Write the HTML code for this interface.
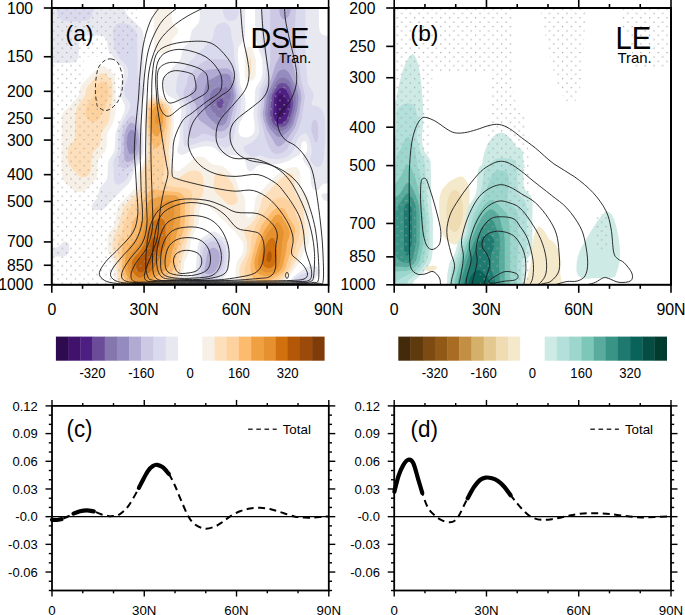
<!DOCTYPE html>
<html><head><meta charset="utf-8"><style>
html,body{margin:0;padding:0;background:#fff;width:685px;height:615px;overflow:hidden}
svg{display:block}
text{font-family:"Liberation Sans", sans-serif;fill:#000}
</style></head><body>
<svg width="685" height="615" viewBox="0 0 685 615">
<rect width="685" height="615" fill="#fff"/>
<clipPath id="ca"><rect x="51.8" y="8.0" width="276.8" height="276.8"/></clipPath>
<clipPath id="cb"><rect x="394.2" y="8.0" width="276.8" height="276.8"/></clipPath>
<g clip-path="url(#ca)">
<path d="M153.8,5.0 171.3,5.0 171.8,21.0 173.2,24.0 177.1,28.0 178.2,30.0 177.9,33.0 173.8,37.3 172.2,40.0 170.8,48.0 169.8,50.4 166.8,52.9 162.8,53.5 159.8,53.3 156.8,52.1 155.0,50.0 154.1,47.0 153.7,5.0ZM247.8,46.9 249.8,46.5 250.8,46.8 252.7,49.0 255.8,60.0 255.7,75.0 254.5,78.0 251.8,80.7 248.8,81.4 246.8,80.4 245.3,78.0 244.7,75.0 244.5,53.0 245.8,49.0 247.7,47.0ZM101.8,65.7 103.8,65.9 105.8,67.0 113.2,74.0 115.0,77.0 115.9,107.0 115.6,113.0 112.8,123.6 108.4,131.0 107.2,134.0 106.6,146.0 105.8,149.8 103.8,153.0 99.9,157.0 98.3,160.0 97.6,164.0 97.3,174.0 96.4,178.0 86.8,189.3 82.8,191.6 77.8,191.9 73.8,190.7 63.8,181.0 62.1,178.0 61.5,171.0 61.7,117.0 62.4,114.0 63.6,112.0 68.8,107.3 72.2,103.0 77.9,97.0 79.3,94.0 80.5,87.0 82.1,84.0 91.7,74.0 100.9,66.0ZM154.8,93.8 156.8,93.5 159.8,95.0 170.8,103.6 172.6,106.0 173.4,108.0 174.1,114.0 174.0,123.0 172.9,140.0 171.1,151.0 173.9,167.0 175.0,170.0 176.8,171.3 178.8,170.9 188.8,163.1 193.8,158.3 195.8,157.1 198.8,156.4 201.8,156.5 204.8,157.4 210.5,163.0 212.8,164.4 220.8,165.7 224.2,167.0 234.8,177.3 236.2,180.0 239.0,189.0 243.9,196.0 245.1,200.0 245.5,213.0 246.5,216.0 247.8,217.3 248.8,217.5 250.8,216.8 252.8,213.7 254.5,207.0 255.4,199.0 257.1,195.0 275.7,176.0 283.5,170.0 288.0,168.0 294.8,166.9 296.8,167.6 298.8,169.4 300.2,173.0 300.6,184.0 301.2,188.0 302.8,191.0 308.1,197.0 309.5,201.0 309.6,241.0 308.2,245.0 303.8,251.0 301.1,259.0 299.6,262.0 293.2,271.0 285.4,280.0 284.1,283.0 283.8,287.0 236.6,287.0 235.4,273.0 235.5,268.0 237.4,261.0 241.8,254.9 243.2,252.0 243.7,247.0 242.8,242.2 234.8,231.5 229.6,227.0 225.4,222.0 220.6,218.0 216.3,213.0 211.6,209.0 207.8,205.0 204.8,203.5 201.8,204.7 199.8,208.0 198.6,224.0 192.9,235.0 190.5,243.0 188.9,253.0 184.6,261.0 183.3,272.0 180.8,282.0 180.5,287.0 114.7,287.0 113.2,263.0 111.9,259.0 108.4,253.0 107.7,250.0 107.8,236.0 108.8,232.9 112.8,227.6 114.5,224.0 117.8,207.0 120.7,203.0 132.5,191.0 134.8,188.0 136.7,183.0 138.8,171.0 143.1,164.0 144.4,161.0 145.4,156.0 145.9,148.0 144.1,121.0 144.7,107.0 145.8,103.0 147.8,99.6 150.8,96.4 154.3,94.0Z" fill="#f6f0e6"/>
<path d="M249.8,57.3 250.8,58.8 251.2,62.0 250.9,73.0 249.8,73.6 249.1,71.0 249.1,62.0 249.6,58.0ZM102.8,73.0 105.8,74.3 109.8,77.9 111.6,81.0 112.3,84.0 112.5,97.0 109.4,119.0 107.8,123.7 102.9,130.0 101.4,133.0 100.2,143.0 99.2,146.0 93.8,151.4 92.5,154.0 91.6,159.0 91.2,169.0 90.2,173.0 87.8,175.9 83.8,177.2 80.8,176.9 78.8,175.8 69.7,166.0 67.8,160.0 68.0,150.0 69.3,146.0 73.6,141.0 74.8,138.2 75.2,117.0 77.1,107.0 84.2,97.0 85.4,94.0 86.4,89.0 87.8,86.0 95.8,77.1 99.8,73.9 102.2,73.0ZM153.8,97.8 157.8,97.3 161.8,99.4 168.6,105.0 169.9,107.0 170.9,110.0 171.5,122.0 168.5,152.0 170.1,170.0 171.8,175.1 174.8,178.1 177.8,178.4 179.8,177.5 187.8,171.7 191.8,170.7 195.8,170.5 198.8,171.5 200.8,173.0 202.7,176.0 203.6,180.0 203.5,193.0 202.0,196.0 196.8,202.2 195.0,206.0 194.3,210.0 193.6,224.0 186.1,244.0 184.7,251.0 181.5,260.0 180.2,272.0 178.8,275.7 175.3,282.0 174.5,287.0 118.3,287.0 116.0,261.0 112.5,249.0 112.6,242.0 113.3,237.0 117.8,227.2 123.2,208.0 125.8,204.4 136.8,192.8 139.8,187.0 141.2,173.0 145.7,163.0 147.2,154.0 147.3,143.0 145.5,121.0 146.0,109.0 146.9,105.0 148.5,102.0 150.8,99.6 153.5,98.0ZM218.8,172.9 221.8,173.2 224.8,175.0 229.8,179.7 232.5,184.0 237.8,199.0 236.8,202.7 233.8,204.9 229.8,205.1 226.8,203.7 221.7,198.0 216.8,194.0 214.8,191.0 213.5,185.0 214.0,178.0 215.3,175.0 218.4,173.0ZM286.8,173.8 288.8,173.2 290.8,173.3 293.0,175.0 294.1,179.0 294.7,190.0 295.5,194.0 297.2,197.0 301.5,201.0 302.8,203.6 304.7,224.0 304.8,234.0 303.8,241.0 300.4,248.0 296.7,259.0 290.4,271.0 281.5,281.0 280.6,284.0 280.4,287.0 241.6,287.0 241.2,281.0 239.5,274.0 239.2,270.0 240.5,265.0 245.8,255.3 247.2,250.0 247.0,242.0 243.9,232.0 244.4,229.0 250.8,224.1 254.8,219.0 260.1,207.0 262.0,199.0 263.7,196.0 279.8,179.5 286.5,174.0Z" fill="#fde0bb"/>
<path d="M100.8,81.7 103.8,81.5 107.0,84.0 108.7,88.0 108.8,94.0 107.8,99.1 104.8,108.5 99.8,118.1 96.8,121.0 94.8,121.8 91.8,122.0 89.8,121.3 88.1,120.0 86.2,116.0 85.7,109.0 87.3,104.0 93.5,96.0 96.3,86.0 100.2,82.0ZM155.8,99.9 159.8,100.6 165.3,105.0 167.7,109.0 168.9,115.0 168.7,124.0 166.8,134.0 164.7,151.0 164.6,170.0 163.8,174.0 162.2,178.0 162.5,180.0 165.6,184.0 168.8,186.0 173.8,187.0 183.8,187.8 187.8,188.8 190.8,191.1 192.3,195.0 189.7,207.0 189.4,221.0 188.8,226.0 186.8,234.0 182.0,245.0 178.8,258.0 177.2,271.0 174.8,275.0 167.6,281.0 166.1,284.0 165.8,287.0 122.0,287.0 121.6,281.0 119.4,271.0 118.8,260.0 117.3,250.0 117.8,242.0 122.3,232.0 124.0,224.0 127.6,213.0 129.8,209.1 139.8,196.9 143.1,191.0 144.5,187.0 145.3,173.0 148.5,162.0 149.4,153.0 149.1,144.0 147.0,123.0 147.3,111.0 148.1,107.0 149.8,103.7 152.8,101.1 155.6,100.0ZM278.8,197.8 282.8,197.6 285.8,198.6 289.8,201.6 292.9,205.0 294.3,208.0 295.8,215.0 299.3,223.0 300.1,231.0 299.4,236.0 296.5,244.0 294.4,254.0 288.6,269.0 285.8,273.0 277.3,281.0 276.0,284.0 275.7,287.0 246.4,287.0 246.1,280.0 244.3,271.0 245.2,266.0 250.3,252.0 251.9,235.0 255.6,226.0 260.8,216.7 267.6,208.0 271.8,201.5 273.8,199.7 277.9,198.0Z" fill="#fdd29f"/>
<path d="M154.8,102.9 156.8,102.5 158.8,102.8 163.0,106.0 165.4,111.0 166.3,117.0 165.8,125.0 161.8,140.9 159.8,145.4 156.8,148.2 154.8,148.1 153.8,147.2 151.8,142.2 149.8,134.5 148.7,124.0 148.7,115.0 149.7,109.0 151.8,105.0 154.6,103.0ZM150.8,189.9 154.8,189.2 163.8,190.8 177.8,192.1 180.8,193.3 182.9,195.0 184.3,197.0 185.0,200.0 184.8,222.0 184.2,228.0 182.9,233.0 179.8,240.0 176.2,252.0 174.1,268.0 173.2,270.0 171.5,272.0 161.9,278.0 158.4,281.0 156.9,284.0 156.6,287.0 126.3,287.0 125.9,282.0 122.6,273.0 121.8,268.0 121.8,252.8 122.9,245.0 124.3,242.0 130.4,234.0 131.3,231.0 132.7,222.0 134.3,219.0 137.8,214.5 141.7,203.0 146.8,194.1 150.7,190.0ZM277.8,207.7 281.8,207.8 285.1,210.0 288.8,217.7 293.8,225.0 295.0,229.0 295.0,233.0 291.5,244.0 290.2,253.0 284.8,270.0 282.1,273.0 277.8,276.2 267.8,281.3 264.8,281.9 259.8,281.6 255.8,280.3 253.8,278.8 252.0,276.0 250.8,272.2 250.4,264.0 255.8,242.0 261.1,226.0 271.7,212.0 274.8,209.2 277.0,208.0Z" fill="#fcbb6d"/>
<path d="M156.8,105.8 159.8,107.0 161.8,110.0 163.0,114.0 163.4,119.0 162.8,124.4 160.8,130.5 158.8,134.7 156.8,136.4 154.8,135.9 152.7,133.0 151.4,128.0 150.9,121.0 151.1,115.0 151.9,111.0 153.8,107.5 156.0,106.0ZM168.8,195.0 175.8,195.7 178.0,197.0 179.4,199.0 180.2,206.0 180.1,221.0 179.6,226.0 176.7,234.0 174.6,244.0 171.8,252.0 170.5,262.0 169.1,266.0 165.7,270.0 151.3,280.0 149.2,283.0 148.7,287.0 130.9,287.0 130.1,281.0 126.3,274.0 125.0,270.0 124.7,263.0 125.7,255.0 126.9,251.0 128.8,247.0 135.8,238.7 137.8,235.3 140.0,225.0 144.2,215.0 145.8,206.0 147.8,202.2 149.8,200.1 151.8,199.1 162.8,195.8 168.0,195.0ZM275.8,214.9 278.8,214.2 281.8,216.3 288.5,228.0 289.9,233.0 289.4,236.0 287.0,243.0 286.0,252.0 282.8,266.0 281.5,269.0 278.8,272.0 274.8,274.4 269.8,276.0 265.8,276.2 261.8,275.4 258.8,274.1 256.6,272.0 255.1,269.0 254.2,264.0 254.8,259.0 257.9,248.0 263.8,231.4 273.7,217.0 275.6,215.0Z" fill="#efa142"/>
<path d="M156.8,113.5 158.1,114.0 159.1,117.0 158.9,122.0 157.8,124.2 156.8,124.6 155.8,123.8 155.0,121.0 155.1,117.0 156.2,114.0ZM166.8,200.8 169.8,200.6 172.5,202.0 173.6,204.0 174.3,208.0 174.2,222.0 171.5,233.0 170.2,244.0 167.1,252.0 165.3,260.0 163.9,263.0 155.7,272.0 145.1,280.0 143.5,283.0 143.0,287.0 136.0,287.0 134.8,281.0 129.8,273.6 128.3,270.0 127.8,265.0 128.7,259.0 130.9,254.0 137.8,245.7 140.6,241.0 144.8,225.6 151.8,211.5 153.8,209.2 166.3,201.0ZM276.8,222.6 278.8,222.6 280.8,224.8 283.0,230.0 283.8,234.0 282.0,243.0 281.4,253.0 280.1,262.0 278.3,267.0 275.6,270.0 272.8,271.6 269.8,272.4 266.8,272.5 263.8,271.7 261.1,270.0 259.4,268.0 258.1,265.0 257.7,262.0 258.3,258.0 260.3,251.0 265.8,235.9 267.8,232.4 276.2,223.0Z" fill="#e69130"/>
<path d="M157.8,218.7 159.8,218.2 161.8,218.5 163.8,220.0 164.8,222.2 165.4,226.0 165.9,240.0 165.5,244.0 159.8,257.6 153.9,268.0 150.1,272.0 142.8,276.6 140.8,277.4 138.8,277.4 135.8,275.5 133.6,273.0 131.6,268.0 131.9,262.0 133.8,257.9 139.8,251.6 143.3,246.0 145.2,241.0 147.7,231.0 149.8,226.6 153.8,221.5 157.2,219.0ZM271.8,237.8 273.8,238.3 275.4,241.0 276.7,248.0 277.0,255.0 276.5,260.0 275.7,263.0 273.7,266.0 270.8,268.0 267.8,268.3 264.8,267.1 262.2,264.0 261.6,261.0 262.8,254.0 265.8,245.3 268.8,239.9 271.2,238.0Z" fill="#d0700f"/>
<path d="M154.8,236.8 156.8,237.0 159.1,239.0 160.1,242.0 159.8,245.0 155.5,253.0 149.8,265.8 146.8,269.2 142.8,271.8 139.8,272.2 137.8,271.1 137.0,270.0 136.1,267.0 136.5,263.0 138.2,260.0 144.2,254.0 149.2,246.0 152.3,239.0 154.4,237.0ZM268.8,251.4 269.8,251.1 270.8,251.8 271.6,254.0 271.7,258.0 270.7,261.0 269.8,261.8 268.2,262.0 266.5,260.0 266.8,255.4 268.3,252.0Z" fill="#b45808"/>
<path d="M49.8,5.0 125.2,5.0 125.5,11.0 126.8,14.4 141.0,28.0 143.1,32.0 143.6,37.0 143.8,74.0 145.6,89.0 145.0,94.0 142.0,103.0 141.2,109.0 141.3,121.0 142.9,133.0 143.4,143.0 143.3,151.0 142.3,157.0 140.2,162.0 134.7,169.0 131.5,179.0 128.8,183.5 109.1,203.0 104.8,208.2 101.8,209.8 97.8,210.3 94.8,209.9 92.8,208.9 91.5,207.0 91.7,205.0 97.3,198.0 99.8,188.0 105.2,182.0 106.8,179.0 107.5,175.0 108.1,162.0 109.5,159.0 113.3,153.0 114.6,149.0 115.5,133.0 119.6,122.0 123.5,114.0 124.7,110.0 124.8,105.0 120.9,97.0 120.1,92.0 120.5,86.0 123.8,76.0 123.6,70.0 122.3,67.0 116.8,61.9 109.0,51.0 107.9,48.0 107.0,41.0 105.8,38.5 103.8,36.6 99.8,35.4 86.8,35.4 83.8,36.2 81.2,38.0 80.0,40.0 79.2,43.0 78.6,57.0 77.3,60.0 74.8,62.0 69.8,62.9 48.8,62.9 48.8,5.0ZM200.8,5.0 245.3,5.0 245.0,36.0 243.6,40.0 238.8,47.0 238.0,50.0 237.7,55.0 240.3,84.0 241.4,88.0 244.7,95.0 245.5,101.0 245.0,113.0 239.7,123.0 238.8,127.2 238.7,132.0 239.2,134.0 240.8,136.1 242.8,137.1 245.8,137.4 248.8,136.9 251.8,135.3 253.7,133.0 254.5,131.0 254.8,125.0 253.3,114.0 254.7,103.0 255.1,91.0 256.2,87.0 261.2,79.0 262.6,73.0 262.2,59.0 258.8,49.8 255.2,37.0 255.0,5.0 318.9,5.0 319.0,26.0 319.7,31.0 320.8,33.1 323.2,35.0 325.8,35.8 330.8,36.1 330.8,183.0 326.8,183.2 323.5,184.0 321.0,186.0 318.8,189.6 316.8,190.5 313.8,189.2 311.8,186.8 310.9,183.0 310.1,171.0 308.8,168.0 304.1,162.0 302.7,159.0 302.9,156.0 305.8,153.3 307.3,150.0 306.8,144.0 305.8,141.8 304.8,141.0 302.8,141.4 301.7,143.0 301.0,146.0 300.5,153.0 299.2,155.0 288.3,161.0 281.8,163.0 274.8,164.4 263.8,164.5 259.8,165.1 256.8,166.6 252.8,170.4 250.8,171.3 248.8,171.0 247.7,170.0 246.7,168.0 245.2,161.0 243.8,158.7 241.8,156.9 237.8,155.4 226.8,155.1 222.8,154.5 219.8,152.8 214.8,148.1 211.8,146.6 204.8,146.3 195.8,148.0 191.8,149.6 185.8,153.7 182.8,154.7 179.8,154.4 177.8,152.7 177.2,150.0 179.5,140.0 179.8,125.0 181.2,113.0 181.1,108.0 179.6,104.0 177.2,101.0 173.8,98.4 168.8,96.0 165.8,93.0 163.5,86.0 163.2,80.0 164.0,77.0 165.2,75.0 169.8,71.0 174.0,66.0 179.8,60.5 180.9,58.0 182.6,49.0 184.0,47.0 188.4,43.0 189.6,41.0 191.8,30.6 198.6,23.0 199.8,18.0 199.9,5.0ZM322.8,193.6 330.8,193.1 330.8,201.1 325.8,200.7 322.8,199.2 321.3,196.0 322.0,194.0ZM211.8,231.7 213.8,231.5 215.8,232.1 225.6,239.0 227.8,242.0 229.2,247.0 229.7,258.0 228.4,270.0 226.8,274.0 220.6,281.0 219.6,287.0 188.8,287.0 189.0,282.0 189.7,279.0 194.8,272.0 195.8,269.0 197.4,248.0 198.8,242.1 201.8,238.3 211.0,232.0ZM63.8,241.8 66.8,241.7 68.3,243.0 69.2,245.0 69.3,251.0 68.5,253.0 66.8,255.0 64.8,256.0 61.8,256.5 48.8,256.5 48.8,248.5 53.8,248.3 56.8,247.5 59.3,246.0 63.5,242.0ZM309.8,265.8 312.8,265.4 315.9,266.0 318.6,268.0 319.4,270.0 319.5,272.0 318.7,274.0 313.8,280.0 312.9,287.0 289.4,287.0 290.4,281.0 293.1,277.0 304.8,268.0 309.0,266.0Z" fill="#e8e8f0"/>
<path d="M56.8,5.0 93.1,5.0 92.4,14.0 91.1,17.0 89.8,18.6 87.8,20.0 84.8,21.1 74.8,21.6 65.8,21.3 62.8,20.4 59.8,18.5 57.3,14.0 56.6,5.0ZM222.8,5.0 239.1,5.0 238.7,13.0 237.0,18.0 235.8,19.4 233.8,20.5 229.8,21.1 226.8,20.1 224.1,16.0 223.0,12.0 222.7,5.0ZM261.8,5.0 305.4,5.0 305.4,55.0 307.7,83.0 308.8,85.9 312.4,91.0 313.5,94.0 313.6,97.0 311.5,103.0 311.6,105.0 317.8,106.5 321.3,109.0 323.1,112.0 324.0,115.0 325.3,123.0 325.3,141.0 323.4,160.0 321.5,165.0 319.8,166.5 317.8,167.0 315.8,166.4 313.8,165.1 310.4,161.0 310.2,158.0 311.8,152.0 311.2,146.0 308.8,137.7 306.8,134.5 304.8,133.1 301.8,134.2 298.3,138.0 296.3,142.0 294.4,149.0 292.5,152.0 287.8,156.4 282.8,158.6 276.8,159.3 270.8,158.8 265.8,157.6 259.8,155.1 253.8,157.3 251.8,157.2 247.2,154.0 244.6,151.0 243.7,149.0 243.8,147.0 244.6,146.0 251.8,142.5 255.8,139.0 258.6,135.0 259.3,132.0 259.1,126.0 257.2,116.0 257.2,112.0 258.6,104.0 259.6,90.0 260.6,87.0 265.0,78.0 265.8,74.0 266.0,67.0 265.7,58.0 262.4,48.0 261.6,42.0 261.3,5.0ZM119.8,23.0 125.8,23.4 129.8,25.0 135.2,30.0 137.2,34.0 137.7,74.0 138.5,78.0 140.8,84.0 141.6,89.0 141.4,94.0 139.3,103.0 138.8,109.0 139.4,120.0 141.8,134.0 142.2,146.0 141.5,154.0 139.4,160.0 132.7,168.0 126.8,178.9 122.8,182.7 118.8,184.7 115.8,184.1 114.2,181.0 113.2,162.0 117.6,151.0 118.3,136.0 119.4,130.0 122.6,122.0 129.3,110.0 130.5,105.0 129.5,102.0 125.1,96.0 123.9,92.0 124.4,87.0 127.8,77.0 128.1,72.0 127.5,68.0 125.4,64.0 119.2,58.0 115.1,50.0 113.9,46.0 112.8,32.0 113.1,29.0 115.4,25.0 119.6,23.0ZM221.8,22.8 224.8,22.6 226.8,23.2 229.3,26.0 230.9,30.0 231.8,37.5 233.6,45.0 234.3,58.0 237.4,74.0 238.4,86.0 241.4,98.0 240.4,111.0 236.4,123.0 233.3,140.0 230.5,145.0 226.8,147.5 224.8,147.7 222.8,147.2 214.8,142.3 207.8,140.7 203.8,141.1 187.8,146.3 185.8,146.5 184.8,146.0 183.8,144.2 183.4,141.0 183.2,127.0 183.7,122.0 185.9,113.0 185.9,108.0 184.5,104.0 177.4,95.0 176.0,91.0 176.9,79.0 179.3,73.0 185.7,67.0 189.8,61.6 193.8,57.9 197.8,53.1 202.9,49.0 206.9,44.0 211.8,39.7 213.1,37.0 214.1,30.0 215.3,27.0 217.8,24.3 220.9,23.0ZM211.8,236.8 215.8,237.2 220.8,240.0 223.3,242.0 225.5,246.0 226.8,253.0 226.7,262.0 225.3,269.0 223.8,272.0 217.0,280.0 215.9,283.0 215.6,287.0 192.5,287.0 193.3,281.0 196.8,275.6 198.1,272.0 199.3,263.0 200.0,251.0 201.4,245.0 204.3,241.0 211.3,237.0ZM308.8,271.9 310.8,271.9 311.5,273.0 310.1,279.0 309.9,287.0 292.0,287.0 292.6,282.0 295.2,278.0 299.8,275.0 308.1,272.0Z" fill="#d9daed"/>
<path d="M270.8,5.0 296.2,5.0 294.9,26.0 295.2,50.0 296.6,58.0 299.6,67.0 301.1,80.0 305.1,96.0 301.6,119.0 298.4,129.0 287.2,149.0 282.8,152.6 277.8,153.9 274.8,153.4 272.8,152.4 270.8,150.5 269.4,148.0 265.3,138.0 260.0,115.0 262.4,93.0 263.6,89.0 267.3,81.0 268.6,77.0 270.4,61.0 270.0,5.0ZM217.8,59.0 226.8,59.4 229.8,61.4 231.8,64.4 235.3,74.0 236.5,86.0 238.6,97.0 236.6,110.0 231.8,128.7 229.8,132.6 227.8,135.0 224.8,137.5 221.8,138.4 217.8,137.7 204.8,133.4 201.8,134.0 194.8,138.3 191.8,138.4 189.8,137.3 188.4,134.0 187.9,128.0 188.3,124.0 190.6,115.0 190.8,108.0 189.6,104.0 184.2,97.0 183.3,94.0 183.8,91.0 186.4,85.0 187.8,78.0 189.6,75.0 193.8,70.3 200.8,63.6 204.8,60.9 209.8,59.6 217.0,59.0ZM131.8,116.0 133.8,115.8 135.8,117.7 139.4,129.0 140.6,137.0 140.7,149.0 139.8,154.2 137.8,158.7 133.8,163.0 127.8,168.1 124.8,168.9 121.8,167.8 119.4,165.0 118.4,161.0 121.0,151.0 121.2,137.0 122.5,130.0 124.3,125.0 126.5,121.0 128.8,118.1 131.8,116.0ZM313.8,120.0 315.6,120.0 316.7,121.0 318.0,125.0 318.1,137.0 317.7,140.0 316.8,142.1 315.8,142.4 314.8,141.5 311.5,131.0 311.6,124.0 312.8,121.0 313.8,120.0ZM210.8,241.7 212.8,241.2 215.8,241.7 218.8,243.3 220.8,245.1 223.2,250.0 224.0,258.0 223.1,265.0 221.1,270.0 214.8,277.0 209.8,280.8 205.8,281.2 202.8,279.8 201.4,277.0 201.0,272.0 202.8,253.0 203.6,249.0 205.8,245.0 210.0,242.0ZM299.8,278.6 302.8,278.0 305.3,279.0 306.6,282.0 306.8,287.0 295.1,287.0 295.9,282.0 299.0,279.0Z" fill="#cdc9e4"/>
<path d="M279.8,5.0 290.7,5.0 290.5,11.0 289.4,15.0 287.8,17.6 284.8,19.4 282.7,19.0 280.4,16.0 279.5,12.0 279.3,5.0ZM283.8,51.9 285.8,52.2 287.8,53.7 290.3,58.0 294.3,69.0 296.1,77.0 300.8,92.0 301.5,98.0 299.1,114.0 295.6,126.0 293.4,130.0 285.8,141.0 282.8,144.4 279.8,146.3 277.8,146.4 275.8,145.0 266.8,129.5 263.5,120.0 262.6,113.0 264.0,105.0 264.6,96.0 265.6,92.0 271.2,79.0 275.3,65.0 280.8,54.3 283.6,52.0ZM214.8,68.9 225.8,68.2 228.8,68.9 230.8,70.4 232.8,73.6 233.8,76.9 234.6,86.0 236.3,95.0 235.9,100.0 232.2,113.0 229.7,124.0 228.1,127.0 225.8,129.5 223.8,130.7 220.8,131.6 216.8,131.3 212.8,129.8 198.8,119.8 197.3,116.0 195.9,105.0 190.8,97.0 190.2,95.0 190.8,92.7 195.3,86.0 197.1,78.0 199.8,74.0 202.8,71.4 205.8,70.0 214.2,69.0ZM130.8,122.6 132.8,122.9 133.8,123.6 135.8,126.3 137.8,130.4 138.9,136.0 139.2,145.0 138.6,151.0 136.8,155.5 133.8,159.1 129.8,161.8 126.8,161.9 125.4,161.0 124.3,159.0 123.8,142.0 124.2,136.0 125.6,130.0 127.8,125.2 130.0,123.0ZM211.8,247.8 214.8,247.8 217.7,250.0 219.2,253.0 219.8,257.0 219.4,262.0 217.3,268.0 214.8,271.6 211.8,273.8 208.8,274.3 206.8,273.9 204.8,272.0 204.4,270.0 207.3,253.0 208.8,250.1 211.3,248.0Z" fill="#b1aad3"/>
<path d="M280.8,69.9 283.8,69.3 285.8,69.9 287.8,71.5 289.8,74.2 295.7,86.0 297.9,93.0 298.6,98.0 297.4,109.0 293.3,124.0 289.5,130.0 281.8,136.3 278.8,137.1 276.8,136.2 270.1,129.0 266.8,122.8 265.0,114.0 266.9,97.0 267.9,93.0 276.8,74.0 278.8,71.3 280.6,70.0ZM222.8,73.8 227.8,74.0 229.8,75.2 230.8,76.7 234.1,96.0 233.6,99.0 229.7,110.0 226.6,121.0 224.8,123.9 221.8,125.6 218.8,125.4 215.8,123.9 211.3,120.0 206.8,114.9 204.8,110.0 203.4,97.0 203.8,93.0 205.4,86.0 207.8,81.1 217.8,75.5 222.0,74.0ZM131.8,129.8 133.8,130.8 135.8,133.9 136.9,142.0 135.8,149.9 133.8,152.9 131.8,154.2 129.8,153.8 128.8,152.4 127.4,148.0 126.7,143.0 126.8,139.0 127.8,134.6 128.9,132.0 130.8,130.0Z" fill="#948bbf"/>
<path d="M280.8,77.9 282.8,77.6 285.8,78.3 287.8,79.6 290.0,82.0 293.9,90.0 295.3,95.0 295.8,99.0 295.2,108.0 291.4,122.0 288.4,127.0 283.8,130.2 278.8,131.4 276.8,130.8 273.8,128.7 271.4,126.0 269.6,123.0 267.5,115.0 269.2,98.0 270.0,94.0 275.8,82.4 277.8,79.8 280.6,78.0ZM221.8,87.0 225.8,87.1 227.8,88.2 230.3,92.0 231.0,96.0 224.8,113.6 222.8,117.0 220.8,118.0 218.8,117.5 216.8,116.1 211.8,110.3 210.1,106.0 209.5,100.0 210.4,94.0 212.8,89.9 215.8,88.1 221.7,87.0Z" fill="#8577ad"/>
<path d="M281.8,82.9 285.8,83.6 289.2,87.0 292.3,95.0 293.3,103.0 292.1,111.0 288.6,122.0 285.8,125.4 280.8,127.6 276.8,127.1 273.4,124.0 271.0,119.0 270.1,113.0 271.5,98.0 272.5,94.0 276.8,86.1 278.8,84.1 281.4,83.0ZM218.8,98.9 221.8,98.8 223.4,101.0 223.3,105.0 222.3,107.0 221.2,108.0 219.8,108.2 218.8,107.7 216.8,104.8 216.8,101.2 218.6,99.0Z" fill="#6a4c9a"/>
<path d="M279.8,88.5 281.8,88.0 283.8,88.3 286.8,90.7 289.3,96.0 290.6,102.0 290.2,108.0 287.8,116.1 285.8,120.4 283.1,123.0 279.8,124.0 276.8,122.9 274.6,120.0 273.1,115.0 274.2,97.0 275.8,92.7 279.0,89.0Z" fill="#4e1f82"/>
<path d="M279.8,94.4 282.8,94.7 284.8,96.6 286.8,100.7 287.4,104.0 287.1,107.0 285.8,111.0 283.8,114.7 281.8,116.9 279.8,117.6 278.8,117.3 277.6,116.0 276.6,113.0 276.9,100.0 277.6,97.0 279.0,95.0Z" fill="#41126b"/>
</g>
<g clip-path="url(#cb)">
<path d="M395,118 C395.5,92 404,57 412.6,54 C419.5,56.5 422.5,88 423.5,118 Z" fill="#cdeae5"/>
<path d="M482,168 C482.5,150 491,134 500.5,132.5 C510,133.5 518,146 525,168 Z" fill="#cdeae5"/>
<path d="M606,211 C610,212 613,215 615,222 C618,232 620,244 620,254 C620,264 617,272 615,277 C608,279 598,277.5 590,278.5 C583,279.5 577,278 576.5,270 C576,262 578,252 584,243 C590,233 598,218 606,211 Z" fill="#cdeae5"/>
<path d="M538.2,226.3 C544,228 547,236 549.5,239.5 C554,241 557.5,246 560,255 C561,265 559.5,272 561,278 L563,286 L524,286 C526,280 529,274 531,262 C532,250 532,236 538.2,226.3 Z" fill="#f5e9cc"/>
<path d="M462.7,176.8 C467,181 470,186 469.8,192.1 C469.5,200 469,208 468.6,215.7 C467.5,228 463,240 458,244 C452,246 446,241 442.7,234.6 C440,226 439,214 439.1,203.9 C439.5,195 441,190 443.9,187.4 C447,183 451,180 453.3,179.4 C457,177 460,176 462.7,176.8 Z" fill="#f5e9cc"/>
<path d="M456,190 C460,192 463,200 463,210 C463,220 460,229 456,232 C451,233 447,226 446.5,216 C446,206 448,196 451,192 C452.5,190.5 454,190 456,190 Z" fill="#efdcb2"/>
<path d="M425,268 C428,265.5 433,265 437,266.5 C437.5,269 434,271 430,271.3 C426.5,271.5 424.5,270 425,268 Z" fill="#f5e9cc"/>
<path d="M406.2,98.9 412.2,99.2 417.2,100.8 419.9,103.0 421.3,106.0 423.3,123.0 421.9,136.0 422.5,144.0 424.2,151.0 429.7,159.0 430.8,163.0 431.3,203.0 432.9,218.0 432.9,250.0 431.4,260.0 429.6,264.0 422.2,273.8 413.9,281.0 413.1,283.0 412.6,287.0 391.2,287.0 391.2,100.4 397.2,100.2 405.6,99.0ZM493.2,146.8 516.2,146.8 520.2,148.2 521.8,150.0 522.7,152.0 523.2,156.0 523.6,186.0 525.2,190.0 531.2,196.2 532.1,199.0 532.5,204.0 532.4,249.0 531.2,253.7 527.2,259.1 525.6,263.0 525.2,287.0 446.7,287.0 447.3,274.0 449.4,263.0 455.1,253.0 457.8,242.0 463.9,233.0 466.4,214.0 467.7,208.0 469.7,204.0 474.2,198.1 475.8,194.0 477.0,187.0 477.4,174.0 478.0,170.0 479.5,167.0 484.2,162.1 485.5,160.0 487.2,152.0 488.0,150.0 490.0,148.0 492.5,147.0Z" fill="#cdeae5"/>
<path d="M404.2,103.9 407.2,103.2 410.2,103.4 412.2,104.1 414.7,106.0 415.6,108.0 416.7,114.0 418.9,121.0 419.0,125.0 416.8,133.0 416.8,138.0 420.7,153.0 424.4,161.0 425.1,164.0 427.2,203.0 429.5,220.0 429.4,249.0 427.9,258.0 425.7,263.0 420.2,270.8 408.8,280.0 407.3,283.0 406.9,287.0 391.2,287.0 391.2,139.4 394.2,138.7 395.2,137.5 396.0,135.0 396.5,129.0 396.6,113.0 397.1,110.0 399.2,107.0 403.8,104.0ZM495.2,159.0 499.2,158.1 510.2,158.5 513.2,159.6 515.2,161.8 516.5,165.0 517.3,169.0 517.7,187.0 518.5,193.0 520.2,196.2 525.2,201.0 526.2,204.0 526.8,211.0 526.7,247.0 526.1,251.0 522.8,258.0 521.8,262.0 521.5,287.0 449.5,287.0 450.1,277.0 452.2,267.0 457.9,254.0 460.6,244.0 466.4,234.0 469.2,218.0 471.2,210.6 477.9,199.0 480.2,193.0 482.0,186.0 483.9,171.0 487.2,166.4 492.2,161.2 495.2,159.0Z" fill="#b3e0da"/>
<path d="M407.2,136.8 409.2,137.0 411.2,139.7 415.4,152.0 418.0,168.0 421.2,178.5 422.0,188.0 426.3,218.0 426.3,243.0 425.4,253.0 423.8,259.0 422.1,263.0 419.2,267.4 416.2,270.4 401.5,278.0 396.2,281.3 391.2,282.4 391.2,167.1 393.2,166.8 395.2,165.2 397.5,154.0 401.7,147.0 405.2,139.0 406.9,137.0ZM497.2,170.8 501.2,170.5 504.2,171.0 506.2,172.0 507.7,174.0 508.8,178.0 509.0,185.0 507.2,198.0 510.4,204.0 516.2,209.3 517.9,214.0 518.3,247.0 517.2,263.0 517.1,287.0 452.1,287.0 452.5,279.0 454.6,270.0 460.3,255.0 463.3,245.0 468.4,235.0 473.2,215.9 476.2,209.2 484.3,195.0 488.2,184.2 492.8,174.0 494.2,172.2 496.4,171.0Z" fill="#9cd6cc"/>
<path d="M407.2,164.5 409.2,164.7 411.0,167.0 415.7,179.0 420.7,200.0 423.0,216.0 423.2,240.0 422.5,248.0 419.6,261.0 418.0,264.0 415.2,267.1 411.2,269.5 407.2,270.8 391.2,271.5 391.2,185.7 394.2,185.0 395.3,184.0 401.2,175.5 405.0,167.0 406.5,165.0ZM490.2,200.0 493.2,200.4 499.2,205.6 506.2,213.0 508.7,218.0 510.1,236.0 510.1,287.0 454.7,287.0 455.0,280.0 456.8,273.0 465.5,247.0 470.4,236.0 475.2,220.7 478.4,214.0 482.2,207.7 486.2,202.8 490.1,200.0Z" fill="#7dc7b9"/>
<path d="M407.2,182.9 409.2,183.1 411.2,185.4 416.2,196.2 418.8,205.0 419.9,215.0 419.7,244.0 416.3,260.0 414.6,263.0 412.5,265.0 409.2,266.6 406.2,267.2 391.2,266.0 391.2,197.6 395.2,197.2 398.2,195.6 401.2,191.9 405.2,184.8 407.1,183.0ZM489.2,209.8 491.2,209.4 493.2,209.9 496.2,212.2 498.5,215.0 499.9,218.0 501.2,224.0 504.1,233.0 504.7,240.0 504.7,287.0 457.5,287.0 457.8,281.0 459.2,275.0 468.2,248.1 475.2,230.4 478.2,223.7 482.2,216.8 486.2,212.0 488.9,210.0Z" fill="#58ab9d"/>
<path d="M407.2,193.6 408.2,193.5 410.2,194.6 413.2,199.2 415.5,205.0 416.4,212.0 416.2,243.0 412.9,258.0 412.0,260.0 410.2,262.0 408.2,263.0 405.2,263.1 400.4,261.0 396.4,257.0 395.4,252.0 395.6,211.0 397.5,207.0 404.2,196.7 406.6,194.0ZM488.2,219.8 491.2,219.2 493.4,221.0 498.3,233.0 499.4,237.0 499.9,244.0 499.2,255.0 499.1,267.0 500.1,287.0 460.6,287.0 461.6,278.0 468.2,257.4 473.2,244.1 480.2,229.6 484.2,223.7 487.9,220.0Z" fill="#3a9486"/>
<path d="M408.2,202.9 410.2,204.4 411.8,209.0 412.0,238.0 411.6,244.0 410.2,251.2 409.2,254.0 407.2,255.8 406.2,255.5 405.2,254.3 404.1,250.0 403.9,213.0 404.1,209.0 404.9,206.0 406.2,203.9 407.9,203.0ZM485.2,234.7 488.2,234.2 490.2,235.0 492.9,238.0 494.2,241.1 494.1,246.0 490.9,255.0 490.6,265.0 491.3,270.0 494.8,279.0 495.4,287.0 464.1,287.0 464.9,279.0 468.4,270.0 471.4,259.0 479.2,240.9 482.2,236.7 484.6,235.0Z" fill="#1e7a70"/>
<path d="M477.2,269.9 479.2,270.1 481.2,271.3 487.2,277.2 489.2,281.0 489.8,287.0 468.4,287.0 468.7,282.0 470.2,277.5 473.2,273.0 477.0,270.0Z" fill="#0a6359"/>
</g>
<defs><pattern id="st" patternUnits="userSpaceOnUse" x="57.4" y="17.2" width="8.7" height="8.704"><rect x="0" y="0" width="1.2" height="1.2" fill="#a3a3a3"/><rect x="4.35" y="4.352" width="1.2" height="1.2" fill="#a3a3a3"/></pattern></defs>
<g clip-path="url(#ca)"><path d="M52,8 137,8 137,42 126,56 84,57 83,100 104,100 105,190 116,195 144,196 144,285 52,285ZM109,68 119,76 121,95 112,108 100,106 97,90 100,74ZM118,120 131,118 134,150 132,176 119,176 116,150ZM147,103 165,103 166,148 161,160 168,192 181,198 183,240 180,276 144,278 144,192 147,160ZM208,76 228,76 231,100 228,127 214,127 210,100ZM272,84 287,84 290,110 288,137 273,137 269,110Z" fill="url(#st)"/></g>
<g clip-path="url(#cb)"><path d="M394,8 512,8 512,73 503,73 433,73 430,100 428,200 428,272 394,272ZM491,73 512,73 515,100 525,115 530,170 532,230 530,285 480,285 478,230 484,170 489,122ZM540,8 586,8 583,60 580,90 576,101 565,101 556,80 548,50ZM621,8 668,8 668,69 634,69 630,40 621,30ZM594,214 609,214 609,250 594,250Z" fill="url(#st)"/></g>
<g clip-path="url(#ca)">
<path d="M159,8 C157.5,10.33 152.65,15.67 150,22 C147.35,28.33 144.77,37.17 143.1,46 C141.43,54.83 140.8,66 140,75 C139.2,84 139,91.67 138.3,100 C137.6,108.33 136.47,116.67 135.8,125 C135.13,133.33 134.35,142.5 134.3,150 C134.25,157.5 135.1,163.13 135.5,170 C135.9,176.87 136.32,183.9 136.7,191.2 C137.08,198.5 138.37,207.03 137.8,213.8 C137.23,220.57 136.3,226.17 133.3,231.8 C130.3,237.43 124.32,242.7 119.8,247.6 C115.28,252.5 109.6,257.05 106.2,261.2 C102.8,265.35 99.97,269.5 99.4,272.5 C98.83,275.5 100.7,277.48 102.8,279.2 C104.9,280.92 107.47,282.02 112,282.8 C116.53,283.58 118.67,283.67 130,283.9 C141.33,284.13 160,284.15 180,284.2 C200,284.25 230,284.23 250,284.2 C270,284.17 288.67,284.15 300,284 C311.33,283.85 314.13,283.85 318,283.3 C321.87,282.75 322.4,286.25 323.2,280.7 C324,275.15 323.25,259.62 322.8,250 C322.35,240.38 321.55,232.5 320.5,223 C319.45,213.5 317.92,201.83 316.5,193 C315.08,184.17 314.08,176.33 312,170 C309.92,163.67 306.83,159.08 304,155 C301.17,150.92 298.07,148 295,145.5 C291.93,143 288.22,142.42 285.6,140 C282.98,137.58 280.65,134.5 279.3,131 C277.95,127.5 276.88,122.67 277.5,119 C278.12,115.33 280.92,112 283,109 C285.08,106 287.92,104.5 290,101 C292.08,97.5 294.38,92.33 295.5,88 C296.62,83.67 296.87,79.67 296.7,75 C296.53,70.33 295.78,66.3 294.5,60 C293.22,53.7 290.5,43.87 289,37.2 C287.5,30.53 286.25,24.87 285.5,20 C284.75,15.13 284.67,10 284.5,8" fill="none" stroke="#1a1a1a" stroke-width="0.9"/>
<path d="M177,8 C174.67,10 166.83,15.5 163,20 C159.17,24.5 156.5,29.67 154,35 C151.5,40.33 149.58,45.33 148,52 C146.42,58.67 145.42,67 144.5,75 C143.58,83 143.08,91.67 142.5,100 C141.92,108.33 141.38,116.67 141,125 C140.62,133.33 140.27,142.5 140.2,150 C140.13,157.5 140.43,163.13 140.6,170 C140.77,176.87 140.92,182.78 141.2,191.2 C141.48,199.62 143.23,212.22 142.3,220.5 C141.37,228.78 138.98,234.87 135.6,240.9 C132.22,246.93 125.77,252.18 122,256.7 C118.23,261.22 114.88,264.8 113,268 C111.12,271.2 109.95,273.65 110.7,275.9 C111.45,278.15 113.45,280.25 117.5,281.5 C121.55,282.75 124.58,283.03 135,283.4 C145.42,283.77 160.83,283.65 180,283.7 C199.17,283.75 230,283.75 250,283.7 C270,283.65 289.5,283.6 300,283.4 C310.5,283.2 309.92,283.15 313,282.5 C316.08,281.85 317.63,284.08 318.5,279.5 C319.37,274.92 318.7,263.25 318.2,255 C317.7,246.75 316.78,237.5 315.5,230 C314.22,222.5 312.42,216.17 310.5,210 C308.58,203.83 306.58,198 304,193 C301.42,188 298.67,183.83 295,180 C291.33,176.17 286.83,172.75 282,170 C277.17,167.25 271.33,165.08 266,163.5 C260.67,161.92 254.67,162.08 250,160.5 C245.33,158.92 241.17,156.92 238,154 C234.83,151.08 232.25,147 231,143 C229.75,139 229.67,133.83 230.5,130 C231.33,126.17 232.35,123.83 236,120 C239.65,116.17 248.07,110.5 252.4,107 C256.73,103.5 259.48,101.83 262,99 C264.52,96.17 266.37,93.67 267.5,90 C268.63,86.33 269.05,82.83 268.8,77 C268.55,71.17 266.97,62.83 266,55 C265.03,47.17 263.75,37.83 263,30 C262.25,22.17 261.75,11.67 261.5,8" fill="none" stroke="#1a1a1a" stroke-width="0.9"/>
<path d="M203,8 C200.17,9.5 191.17,13.83 186,17 C180.83,20.17 176.33,23.17 172,27 C167.67,30.83 163.25,35 160,40 C156.75,45 154.42,51.17 152.5,57 C150.58,62.83 149.42,67.83 148.5,75 C147.58,82.17 147.42,91.67 147,100 C146.58,108.33 146.23,116.67 146,125 C145.77,133.33 145.63,141.67 145.6,150 C145.57,158.33 145.68,166.67 145.8,175 C145.92,183.33 146.12,191.67 146.3,200 C146.48,208.33 147.57,217.82 146.9,225 C146.23,232.18 145.13,237.45 142.3,243.1 C139.47,248.75 133.28,254 129.9,258.9 C126.52,263.8 122.93,268.92 122,272.5 C121.07,276.08 121.3,278.68 124.3,280.4 C127.3,282.12 130.72,282.35 140,282.8 C149.28,283.25 161.67,283.05 180,283.1 C198.33,283.15 230,283.17 250,283.1 C270,283.03 290,282.97 300,282.7 C310,282.43 307.75,282.45 310,281.5 C312.25,280.55 312.75,281.67 313.5,277 C314.25,272.33 314.83,261 314.5,253.5 C314.17,246 312.92,238.75 311.5,232 C310.08,225.25 308.23,219.17 306,213 C303.77,206.83 300.77,200.33 298.1,195 C295.43,189.67 293.02,185.08 290,181 C286.98,176.92 283.83,173.5 280,170.5 C276.17,167.5 271.6,165 267,163 C262.4,161 257.73,159.25 252.4,158.5 C247.07,157.75 239.73,159.42 235,158.5 C230.27,157.58 227,155.58 224,153 C221,150.42 218.25,146.83 217,143 C215.75,139.17 215.8,134.08 216.5,130 C217.2,125.92 218.13,123.02 221.2,118.5 C224.27,113.98 230.85,107.77 234.9,102.9 C238.95,98.03 243.15,93.85 245.5,89.3 C247.85,84.75 248.65,80.48 249,75.6 C249.35,70.72 248.6,66.43 247.6,60 C246.6,53.57 244.18,45.67 243,37 C241.82,28.33 240.92,12.83 240.5,8" fill="none" stroke="#1a1a1a" stroke-width="0.9"/>
<path d="M163.6,78.1 C165.3,74.45 169.18,71.53 173.8,70.8 C178.42,70.07 187.77,72.17 191.3,73.7 C194.83,75.23 194.27,77.32 195,80 C195.73,82.68 196.53,87.3 195.7,89.8 C194.87,92.3 192.18,93.55 190,95 C187.82,96.45 186.03,97.18 182.6,98.5 C179.17,99.82 172.57,103.87 169.4,102.9 C166.23,101.93 164.57,96.83 163.6,92.7 C162.63,88.57 161.9,81.75 163.6,78.1Z" fill="none" stroke="#1a1a1a" stroke-width="0.9"/>
<path d="M157.8,72.1 C158.88,67.33 161.27,65.92 164.3,64.3 C167.33,62.68 170.8,61.97 176,62.4 C181.2,62.83 190.52,65.07 195.5,66.9 C200.48,68.73 203.83,70.8 205.9,73.4 C207.97,76 207.68,79.47 207.9,82.5 C208.12,85.53 209.27,88.78 207.2,91.6 C205.13,94.42 199.83,96.8 195.5,99.4 C191.17,102 185.75,104.38 181.2,107.2 C176.65,110.02 171.67,116.08 168.2,116.3 C164.73,116.52 162.13,112.4 160.4,108.5 C158.67,104.6 158.23,98.97 157.8,92.9 C157.37,86.83 156.72,76.87 157.8,72.1Z" fill="none" stroke="#1a1a1a" stroke-width="0.9"/>
<path d="M167.9,174.6 C167.52,179.07 165.15,184.93 164,190 C162.85,195.07 161.87,199.67 161,205 C160.13,210.33 159.42,216.5 158.8,222 C158.18,227.5 158.5,232.6 157.3,238 C156.1,243.4 153.67,248.65 151.6,254.4 C149.53,260.15 145.63,268.07 144.9,272.5 C144.17,276.93 143.85,279.57 147.2,281 C150.55,282.43 156.2,281.05 165,281.1 C173.8,281.15 185.83,281.3 200,281.3 C214.17,281.3 235,281.23 250,281.1 C265,280.97 281,280.85 290,280.5 C299,280.15 301.08,280.08 304,279 C306.92,277.92 307.48,276.1 307.5,274 C307.52,271.9 305.77,268.77 304.1,266.4 C302.43,264.03 299.6,262 297.5,259.8 C295.4,257.6 292.23,256.85 291.5,253.2 C290.77,249.55 293.93,243.38 293.1,237.9 C292.27,232.42 290.17,226.53 286.5,220.3 C282.83,214.07 276.58,205.45 271.1,200.5 C265.62,195.55 259.45,192.15 253.6,190.6 C247.75,189.05 241.27,191.38 236,191.2 C230.73,191.02 226.83,190.28 222,189.5 C217.17,188.72 212.22,187.63 207,186.5 C201.78,185.37 195.78,184.02 190.7,182.7 C185.62,181.38 179.58,179.95 176.5,178.6 C173.42,177.25 172.82,178.53 172.2,174.6 C171.58,170.67 172.43,160.97 172.8,155 C173.17,149.03 172.78,144.48 174.4,138.8 C176.02,133.12 179.52,125.23 182.5,120.9 C185.48,116.57 188.23,116.05 192.3,112.8 C196.37,109.55 202.57,104.65 206.9,101.4 C211.23,98.15 215.82,96.03 218.3,93.3 C220.78,90.57 221.6,88.55 221.8,85 C222,81.45 222.13,76.67 219.5,72 C216.87,67.33 212.08,60.75 206,57 C199.92,53.25 189.67,50.25 183,49.5 C176.33,48.75 170.2,50.42 166,52.5 C161.8,54.58 159.53,57.75 157.8,62 C156.07,66.25 155.85,73 155.6,78 C155.35,83 156.02,87.28 156.3,92 C156.58,96.72 156.72,101.22 157.3,106.3 C157.88,111.38 158.85,116.27 159.8,122.5 C160.75,128.73 161.92,136.92 163,143.7 C164.08,150.48 165.48,158.05 166.3,163.2 C167.12,168.35 168.28,170.13 167.9,174.6Z" fill="none" stroke="#1a1a1a" stroke-width="0.9"/>
<path d="M151.6,100 C151.42,108.33 151.32,116.67 151.2,125 C151.08,133.33 150.87,141.67 150.9,150 C150.93,158.33 151.18,166.67 151.4,175 C151.62,183.33 152.02,191.28 152.2,200 C152.38,208.72 153.38,219.37 152.5,227.3 C151.62,235.23 149.72,241.58 146.9,247.6 C144.08,253.62 138.25,258.88 135.6,263.4 C132.95,267.92 131.2,271.68 131,274.7 C130.8,277.72 131.23,280.27 134.4,281.5 C137.57,282.73 139.07,281.97 150,282.1 C160.93,282.23 183.33,282.28 200,282.3 C216.67,282.32 234.17,282.32 250,282.2 C265.83,282.08 285.33,281.83 295,281.6 C304.67,281.37 305.25,281.73 308,280.8 C310.75,279.87 311.05,278.4 311.5,276 C311.95,273.6 311.7,270.73 310.7,266.4 C309.7,262.07 306.7,255.73 305.5,250 C304.3,244.27 304.42,237.33 303.5,232 C302.58,226.67 301.73,222.52 300,218 C298.27,213.48 295.77,209.23 293.1,204.9 C290.43,200.57 286.93,195.65 284,192 C281.07,188.35 279.83,185.9 275.5,183 C271.17,180.1 264.58,175.7 258,174.6 C251.42,173.5 242.67,176.42 236,176.4 C229.33,176.38 223.38,175.9 218,174.5 C212.62,173.1 207.7,170.7 203.7,168 C199.7,165.3 196.53,161.97 194,158.3 C191.47,154.63 189.25,150.22 188.5,146 C187.75,141.78 188.6,137.18 189.5,133 C190.4,128.82 191.53,124.82 193.9,120.9 C196.27,116.98 199.37,113.57 203.7,109.5 C208.03,105.43 215.52,99.92 219.9,96.5 C224.28,93.08 227.57,92.48 230,89 C232.43,85.52 234.62,80.33 234.5,75.6 C234.38,70.87 233.08,65.95 229.3,60.6 C225.52,55.25 218.62,46.67 211.8,43.5 C204.98,40.33 195.95,41.18 188.4,41.6 C180.85,42.02 171.9,43.77 166.5,46 C161.1,48.23 158.37,50.17 156,55 C153.63,59.83 153.03,67.5 152.3,75 C151.57,82.5 151.78,91.67 151.6,100Z" fill="none" stroke="#1a1a1a" stroke-width="0.9"/>
<path d="M173.5,262 C173.17,258.92 174.25,255.92 176,254 C177.75,252.08 181,250.92 184,250.5 C187,250.08 191.25,250.58 194,251.5 C196.75,252.42 199.25,253.92 200.5,256 C201.75,258.08 202.08,261.58 201.5,264 C200.92,266.42 199.25,269 197,270.5 C194.75,272 191.17,272.67 188,273 C184.83,273.33 180.42,274.33 178,272.5 C175.58,270.67 173.83,265.08 173.5,262Z" fill="none" stroke="#1a1a1a" stroke-width="0.9"/>
<path d="M165,262 C165,258 166.17,251.67 168,248 C169.83,244.33 172.67,241.73 176,240 C179.33,238.27 184,237.6 188,237.6 C192,237.6 196.67,238.27 200,240 C203.33,241.73 206.25,244.67 208,248 C209.75,251.33 210.67,256.33 210.5,260 C210.33,263.67 209.58,267.5 207,270 C204.42,272.5 199.5,274.1 195,275 C190.5,275.9 184.5,275.9 180,275.4 C175.5,274.9 170.5,274.23 168,272 C165.5,269.77 165,266 165,262Z" fill="none" stroke="#1a1a1a" stroke-width="0.9"/>
<path d="M160.6,262 C160.6,257 161.1,249.17 163,244 C164.9,238.83 167.83,233.83 172,231 C176.17,228.17 182.83,227.33 188,227 C193.17,226.67 198.5,227.17 203,229 C207.5,230.83 212,234.17 215,238 C218,241.83 220.17,247.33 221,252 C221.83,256.67 221.5,262.08 220,266 C218.5,269.92 216.17,273.5 212,275.5 C207.83,277.5 201.17,277.58 195,278 C188.83,278.42 180.33,278.67 175,278 C169.67,277.33 165.4,276.67 163,274 C160.6,271.33 160.6,267 160.6,262Z" fill="none" stroke="#1a1a1a" stroke-width="0.9"/>
<path d="M156.5,262 C156,255.83 157.08,246.67 159,240 C160.92,233.33 163.17,226.05 168,222 C172.83,217.95 181.5,216.37 188,215.7 C194.5,215.03 201.67,215.95 207,218 C212.33,220.05 216.5,223.5 220,228 C223.5,232.5 226.55,239.33 228,245 C229.45,250.67 229.37,257.17 228.7,262 C228.03,266.83 227.95,271.17 224,274 C220.05,276.83 212.33,278.12 205,279 C197.67,279.88 187.17,279.63 180,279.3 C172.83,278.97 165.92,279.88 162,277 C158.08,274.12 157,268.17 156.5,262Z" fill="none" stroke="#1a1a1a" stroke-width="0.9"/>
<path d="M152.5,262 C152.17,254.5 153.25,242.17 155,234 C156.75,225.83 158,218.17 163,213 C168,207.83 177.5,204.33 185,203 C192.5,201.67 201.5,203.17 208,205 C214.5,206.83 219.17,210.17 224,214 C228.83,217.83 232.67,225.17 237,228 C241.33,230.83 246.22,230 250,231 C253.78,232 257.37,231.67 259.7,234 C262.03,236.33 263.52,240.23 264,245 C264.48,249.77 264.1,257.93 262.6,262.6 C261.1,267.27 259.27,270.52 255,273 C250.73,275.48 243.67,276.33 237,277.5 C230.33,278.67 224.5,279.53 215,280 C205.5,280.47 189.67,280.47 180,280.3 C170.33,280.13 161.58,282.05 157,279 C152.42,275.95 152.83,269.5 152.5,262Z" fill="none" stroke="#1a1a1a" stroke-width="0.9"/>
<path d="M145.7,262 C145.7,256 146.45,246.83 147.5,240 C148.55,233.17 149.58,226.5 152,221 C154.42,215.5 157.33,210.58 162,207 C166.67,203.42 172.83,200.67 180,199.5 C187.17,198.33 198,199 205,200 C212,201 216.83,203.47 222,205.5 C227.17,207.53 230,210.83 236,212.2 C242,213.57 252.15,211.98 258,213.7 C263.85,215.42 267.9,219.2 271.1,222.5 C274.3,225.8 276.47,229.12 277.2,233.5 C277.93,237.88 275.78,243.05 275.5,248.8 C275.22,254.55 276.42,263.38 275.5,268 C274.58,272.62 272.92,274.75 270,276.5 C267.08,278.25 264.67,277.85 258,278.5 C251.33,279.15 241.33,280.02 230,280.4 C218.67,280.78 202.5,280.78 190,280.8 C177.5,280.82 162.08,281.3 155,280.5 C147.92,279.7 149.05,279.08 147.5,276 C145.95,272.92 145.7,268 145.7,262Z" fill="none" stroke="#1a1a1a" stroke-width="0.9"/>
<path d="M287,272.2 C287.53,272.2 288.6,274.33 288.6,275.4 C288.6,276.47 287.53,278.6 287,278.6 C286.47,278.6 285.4,276.47 285.4,275.4 C285.4,274.33 286.47,272.2 287,272.2Z" fill="none" stroke="#1a1a1a" stroke-width="0.9"/>
</g>
<g clip-path="url(#cb)">
<path d="M440.5,286 C440.33,284.67 440.75,280.42 439.5,278 C438.25,275.58 435.42,272.17 433,271.5 C430.58,270.83 427.67,273.58 425,274 C422.33,274.42 419.33,275 417,274 C414.67,273 412.23,271.17 411,268 C409.77,264.83 409.87,261.33 409.6,255 C409.33,248.67 409.45,239.17 409.4,230 C409.35,220.83 409.32,209.75 409.3,200 C409.28,190.25 408.95,180.67 409.3,171.5 C409.65,162.33 410.38,152.15 411.4,145 C412.42,137.85 413.88,132.87 415.4,128.6 C416.92,124.33 418.78,121.27 420.5,119.4 C422.22,117.53 423.13,117.05 425.7,117.4 C428.27,117.75 432.5,119.63 435.9,121.5 C439.3,123.37 443.03,126.73 446.1,128.6 C449.17,130.47 451.23,132.02 454.3,132.7 C457.37,133.38 460.77,133.22 464.5,132.7 C468.23,132.18 472.62,130.8 476.7,129.6 C480.78,128.4 485.25,126.35 489,125.5 C492.75,124.65 495.78,123.98 499.2,124.5 C502.62,125.02 505.75,126.38 509.5,128.6 C513.25,130.82 517.35,134.53 521.7,137.8 C526.05,141.07 530.25,143.87 535.6,148.2 C540.95,152.53 547.28,159.02 553.8,163.8 C560.32,168.58 568.18,172.12 574.7,176.9 C581.22,181.68 587.7,186.87 592.9,192.5 C598.1,198.13 602.87,204.63 605.9,210.7 C608.93,216.77 609.8,221.97 611.1,228.9 C612.4,235.83 612.55,247.28 613.7,252.3 C614.85,257.32 616.27,257.27 618,259 C619.73,260.73 621.78,260.33 624.1,262.7 C626.42,265.07 630.82,270.17 631.9,273.2 C632.98,276.23 632.77,279.38 630.6,280.9 C628.43,282.42 622.58,282.72 618.9,282.3 C615.22,281.88 611.1,279.15 608.5,278.4 C605.9,277.65 605.47,277.15 603.3,277.8 C601.13,278.45 598.1,281.18 595.5,282.3 C592.9,283.42 591.12,283.88 587.7,284.5 C584.28,285.12 577.12,285.75 575,286" fill="none" stroke="#1a1a1a" stroke-width="0.9"/>
<path d="M450.7,287 C450.87,285.72 451.05,282.87 451.7,279.3 C452.35,275.73 454.77,270.15 454.6,265.6 C454.43,261.05 452,257.53 450.7,252 C449.4,246.47 446.92,238.57 446.8,232.4 C446.68,226.23 448.07,220.4 450,215 C451.93,209.6 455.3,204.87 458.4,200 C461.5,195.13 464.87,190.55 468.6,185.8 C472.33,181.05 477.05,175.07 480.8,171.5 C484.55,167.93 487.85,166.1 491.1,164.4 C494.35,162.7 497.23,161.47 500.3,161.3 C503.37,161.13 505.93,161.7 509.5,163.4 C513.07,165.1 517.78,168.6 521.7,171.5 C525.62,174.4 528.08,176.87 533,180.8 C537.92,184.73 545.55,190.55 551.2,195.1 C556.85,199.65 562.12,202.9 566.9,208.1 C571.68,213.3 576.87,220.67 579.9,226.3 C582.93,231.93 583.8,235.83 585.1,241.9 C586.4,247.97 587.7,257.05 587.7,262.7 C587.7,268.35 586.83,272.75 585.1,275.8 C583.37,278.85 580.33,280.05 577.3,281 C574.27,281.95 569.95,281.07 566.9,281.5 C563.85,281.93 561.82,282.85 559,283.6 C556.18,284.35 551.5,285.6 550,286" fill="none" stroke="#1a1a1a" stroke-width="0.9"/>
<path d="M458.5,287 C459,284.42 460.68,276.68 461.5,271.5 C462.32,266.32 463.4,261.12 463.4,255.9 C463.4,250.68 460.85,246.38 461.5,240.2 C462.15,234.02 464.77,225.5 467.3,218.8 C469.83,212.1 473.42,204.82 476.7,200 C479.98,195.18 483.25,192.43 487,189.9 C490.75,187.37 495.45,185.3 499.2,184.8 C502.95,184.3 505.75,185.37 509.5,186.9 C513.25,188.43 517.35,191.33 521.7,194 C526.05,196.67 531.12,198.82 535.6,202.9 C540.08,206.98 545.13,213.3 548.6,218.5 C552.07,223.7 554.67,228.47 556.4,234.1 C558.13,239.73 558.57,246.22 559,252.3 C559.43,258.38 560.3,265.82 559,270.6 C557.7,275.38 553.8,278.83 551.2,281 C548.6,283.17 546.1,282.77 543.4,283.6 C540.7,284.43 536.4,285.6 535,286" fill="none" stroke="#1a1a1a" stroke-width="0.9"/>
<path d="M465.4,287 C465.72,285.07 466.33,279.93 467.3,275.4 C468.27,270.87 470.87,265.02 471.2,259.8 C471.53,254.58 468.65,249.97 469.3,244.1 C469.95,238.23 472.5,230.45 475.1,224.6 C477.7,218.75 481.08,212.9 484.9,209 C488.72,205.1 493.82,202.2 498,201.2 C502.18,200.2 506.33,201.85 510,203 C513.67,204.15 516.6,205.08 520,208.1 C523.4,211.12 526.93,215.9 530.4,221.1 C533.87,226.3 538.2,233.23 540.8,239.3 C543.4,245.37 545.13,251.85 546,257.5 C546.87,263.15 546.87,269.07 546,273.2 C545.13,277.33 542.63,280.17 540.8,282.3 C538.97,284.43 535.97,285.38 535,286" fill="none" stroke="#1a1a1a" stroke-width="0.9"/>
<path d="M471.2,287 C471.53,285.72 472.22,283.52 473.2,279.3 C474.18,275.08 476.62,266.92 477.1,261.7 C477.58,256.48 475.45,253.2 476.1,248 C476.75,242.8 478.57,235.37 481,230.5 C483.43,225.63 487.13,221.08 490.7,218.8 C494.27,216.52 498.52,216.77 502.4,216.8 C506.28,216.83 511.07,217.42 514,219 C516.93,220.58 517.7,222.92 520,226.3 C522.3,229.68 525.63,233.67 527.8,239.3 C529.97,244.93 532.13,254.02 533,260.1 C533.87,266.18 533.43,271.88 533,275.8 C532.57,279.72 531.4,281.9 530.4,283.6 C529.4,285.3 527.57,285.6 527,286" fill="none" stroke="#1a1a1a" stroke-width="0.9"/>
<path d="M482.9,287 C483.55,285.07 485.65,279.28 486.8,275.4 C487.95,271.52 489.8,267.28 489.8,263.7 C489.8,260.12 488.1,256.83 486.8,253.9 C485.5,250.97 482.32,249.03 482,246.1 C481.68,243.17 482.8,238.73 484.9,236.3 C487,233.87 491.03,232.15 494.6,231.5 C498.17,230.85 502.73,231.32 506.3,232.4 C509.87,233.48 513.07,234.73 516,238 C518.93,241.27 522.25,247.07 523.9,252 C525.55,256.93 525.88,262.33 525.9,267.6 C525.92,272.87 524.65,280.53 524,283.6 C523.35,286.67 522.33,285.6 522,286" fill="none" stroke="#1a1a1a" stroke-width="0.9"/>
<path d="M488.8,281.2 C489.77,279.73 495.58,276.02 498.5,274.4 C501.42,272.78 503.37,271.67 506.3,271.5 C509.23,271.33 514.15,272.43 516.1,273.4 C518.05,274.37 518.33,276.17 518,277.3 C517.67,278.43 516.37,279.55 514.1,280.2 C511.83,280.85 507.97,280.7 504.4,281.2 C500.83,281.7 495.3,283.2 492.7,283.2 C490.1,283.2 487.83,282.67 488.8,281.2Z" fill="none" stroke="#1a1a1a" stroke-width="0.9"/>
<path d="M421.5,180.4 C422.37,177.68 424.5,177.8 425.7,178.7 C426.9,179.6 427.25,181.6 428.7,185.8 C430.15,190 432.47,196.95 434.4,203.9 C436.33,210.85 439.28,221.48 440.3,227.5 C441.32,233.52 440.88,236.87 440.5,240 C440.12,243.13 439.42,244.72 438,246.3 C436.58,247.88 433.83,249.55 432,249.5 C430.17,249.45 428.42,248.42 427,246 C425.58,243.58 424.42,240.05 423.5,235 C422.58,229.95 422,222.37 421.5,215.7 C421,209.03 420.5,200.88 420.5,195 C420.5,189.12 420.63,183.12 421.5,180.4Z" fill="none" stroke="#1a1a1a" stroke-width="0.9"/>
</g>
<path d="M111.1,58.9 C113.43,59.23 116.13,60.27 118,63 C119.87,65.73 121.55,71.63 122.3,75.3 C123.05,78.97 122.62,82.25 122.5,85 C122.38,87.75 122.38,89.05 121.6,91.8 C120.82,94.55 119.57,98.72 117.8,101.5 C116.03,104.28 113.23,107 111,108.5 C108.77,110 106.48,110.75 104.4,110.5 C102.32,110.25 99.75,108 98.5,107 C97.25,106 97.42,107.03 96.9,104.5 C96.38,101.97 95.53,96.17 95.4,91.8 C95.27,87.43 95.6,82.3 96.1,78.3 C96.6,74.3 97.08,70.68 98.4,67.8 C99.72,64.92 101.88,62.48 104,61 C106.12,59.52 108.77,58.57 111.1,58.9Z" fill="none" stroke="#1a1a1a" stroke-width="0.9" stroke-dasharray="4 2.6"/>
<rect x="51.8" y="8" width="276.8" height="276.8" fill="none" stroke="#000" stroke-width="2.0"/>
<line x1="51.8" y1="8" x2="51.8" y2="0" stroke="#000" stroke-width="1.6" />
<line x1="51.8" y1="284.8" x2="51.8" y2="292.8" stroke="#000" stroke-width="1.6" />
<line x1="82.56" y1="8" x2="82.56" y2="4" stroke="#000" stroke-width="1.6" />
<line x1="82.56" y1="284.8" x2="82.56" y2="288.8" stroke="#000" stroke-width="1.6" />
<line x1="113.31" y1="8" x2="113.31" y2="4" stroke="#000" stroke-width="1.6" />
<line x1="113.31" y1="284.8" x2="113.31" y2="288.8" stroke="#000" stroke-width="1.6" />
<line x1="144.07" y1="8" x2="144.07" y2="0" stroke="#000" stroke-width="1.6" />
<line x1="144.07" y1="284.8" x2="144.07" y2="292.8" stroke="#000" stroke-width="1.6" />
<line x1="174.82" y1="8" x2="174.82" y2="4" stroke="#000" stroke-width="1.6" />
<line x1="174.82" y1="284.8" x2="174.82" y2="288.8" stroke="#000" stroke-width="1.6" />
<line x1="205.58" y1="8" x2="205.58" y2="4" stroke="#000" stroke-width="1.6" />
<line x1="205.58" y1="284.8" x2="205.58" y2="288.8" stroke="#000" stroke-width="1.6" />
<line x1="236.33" y1="8" x2="236.33" y2="0" stroke="#000" stroke-width="1.6" />
<line x1="236.33" y1="284.8" x2="236.33" y2="292.8" stroke="#000" stroke-width="1.6" />
<line x1="267.09" y1="8" x2="267.09" y2="4" stroke="#000" stroke-width="1.6" />
<line x1="267.09" y1="284.8" x2="267.09" y2="288.8" stroke="#000" stroke-width="1.6" />
<line x1="297.84" y1="8" x2="297.84" y2="4" stroke="#000" stroke-width="1.6" />
<line x1="297.84" y1="284.8" x2="297.84" y2="288.8" stroke="#000" stroke-width="1.6" />
<line x1="328.6" y1="8" x2="328.6" y2="0" stroke="#000" stroke-width="1.6" />
<line x1="328.6" y1="284.8" x2="328.6" y2="292.8" stroke="#000" stroke-width="1.6" />
<line x1="51.8" y1="8" x2="43.8" y2="8" stroke="#000" stroke-width="1.6" />
<text x="33.1" y="13.55" font-size="15.7" text-anchor="end" >100</text>
<line x1="51.8" y1="56.74" x2="43.8" y2="56.74" stroke="#000" stroke-width="1.6" />
<text x="33.1" y="62.29" font-size="15.7" text-anchor="end" >150</text>
<line x1="51.8" y1="91.33" x2="43.8" y2="91.33" stroke="#000" stroke-width="1.6" />
<text x="33.1" y="96.88" font-size="15.7" text-anchor="end" >200</text>
<line x1="51.8" y1="118.15" x2="43.8" y2="118.15" stroke="#000" stroke-width="1.6" />
<text x="33.1" y="123.7" font-size="15.7" text-anchor="end" >250</text>
<line x1="51.8" y1="140.07" x2="43.8" y2="140.07" stroke="#000" stroke-width="1.6" />
<text x="33.1" y="145.62" font-size="15.7" text-anchor="end" >300</text>
<line x1="51.8" y1="174.65" x2="43.8" y2="174.65" stroke="#000" stroke-width="1.6" />
<text x="33.1" y="180.2" font-size="15.7" text-anchor="end" >400</text>
<line x1="51.8" y1="201.47" x2="43.8" y2="201.47" stroke="#000" stroke-width="1.6" />
<text x="33.1" y="207.02" font-size="15.7" text-anchor="end" >500</text>
<line x1="51.8" y1="241.92" x2="43.8" y2="241.92" stroke="#000" stroke-width="1.6" />
<text x="33.1" y="247.47" font-size="15.7" text-anchor="end" >700</text>
<line x1="51.8" y1="265.26" x2="43.8" y2="265.26" stroke="#000" stroke-width="1.6" />
<text x="33.1" y="270.81" font-size="15.7" text-anchor="end" >850</text>
<line x1="51.8" y1="284.8" x2="43.8" y2="284.8" stroke="#000" stroke-width="1.6" />
<text x="33.1" y="290.35" font-size="15.7" text-anchor="end" >1000</text>
<text x="51.8" y="314.8" font-size="15.9" text-anchor="middle" >0</text>
<text x="144.07" y="314.8" font-size="15.9" text-anchor="middle" >30N</text>
<text x="236.33" y="314.8" font-size="15.9" text-anchor="middle" >60N</text>
<text x="328.6" y="314.8" font-size="15.9" text-anchor="middle" >90N</text>
<rect x="394.2" y="8" width="276.8" height="276.8" fill="none" stroke="#000" stroke-width="2.0"/>
<line x1="394.2" y1="8" x2="394.2" y2="0" stroke="#000" stroke-width="1.6" />
<line x1="394.2" y1="284.8" x2="394.2" y2="292.8" stroke="#000" stroke-width="1.6" />
<line x1="424.96" y1="8" x2="424.96" y2="4" stroke="#000" stroke-width="1.6" />
<line x1="424.96" y1="284.8" x2="424.96" y2="288.8" stroke="#000" stroke-width="1.6" />
<line x1="455.71" y1="8" x2="455.71" y2="4" stroke="#000" stroke-width="1.6" />
<line x1="455.71" y1="284.8" x2="455.71" y2="288.8" stroke="#000" stroke-width="1.6" />
<line x1="486.47" y1="8" x2="486.47" y2="0" stroke="#000" stroke-width="1.6" />
<line x1="486.47" y1="284.8" x2="486.47" y2="292.8" stroke="#000" stroke-width="1.6" />
<line x1="517.22" y1="8" x2="517.22" y2="4" stroke="#000" stroke-width="1.6" />
<line x1="517.22" y1="284.8" x2="517.22" y2="288.8" stroke="#000" stroke-width="1.6" />
<line x1="547.98" y1="8" x2="547.98" y2="4" stroke="#000" stroke-width="1.6" />
<line x1="547.98" y1="284.8" x2="547.98" y2="288.8" stroke="#000" stroke-width="1.6" />
<line x1="578.73" y1="8" x2="578.73" y2="0" stroke="#000" stroke-width="1.6" />
<line x1="578.73" y1="284.8" x2="578.73" y2="292.8" stroke="#000" stroke-width="1.6" />
<line x1="609.49" y1="8" x2="609.49" y2="4" stroke="#000" stroke-width="1.6" />
<line x1="609.49" y1="284.8" x2="609.49" y2="288.8" stroke="#000" stroke-width="1.6" />
<line x1="640.24" y1="8" x2="640.24" y2="4" stroke="#000" stroke-width="1.6" />
<line x1="640.24" y1="284.8" x2="640.24" y2="288.8" stroke="#000" stroke-width="1.6" />
<line x1="671" y1="8" x2="671" y2="0" stroke="#000" stroke-width="1.6" />
<line x1="671" y1="284.8" x2="671" y2="292.8" stroke="#000" stroke-width="1.6" />
<line x1="394.2" y1="8" x2="386.2" y2="8" stroke="#000" stroke-width="1.6" />
<text x="375.5" y="13.55" font-size="15.7" text-anchor="end" >200</text>
<line x1="394.2" y1="46.38" x2="386.2" y2="46.38" stroke="#000" stroke-width="1.6" />
<text x="375.5" y="51.93" font-size="15.7" text-anchor="end" >250</text>
<line x1="394.2" y1="77.73" x2="386.2" y2="77.73" stroke="#000" stroke-width="1.6" />
<text x="375.5" y="83.28" font-size="15.7" text-anchor="end" >300</text>
<line x1="394.2" y1="127.21" x2="386.2" y2="127.21" stroke="#000" stroke-width="1.6" />
<text x="375.5" y="132.76" font-size="15.7" text-anchor="end" >400</text>
<line x1="394.2" y1="165.59" x2="386.2" y2="165.59" stroke="#000" stroke-width="1.6" />
<text x="375.5" y="171.14" font-size="15.7" text-anchor="end" >500</text>
<line x1="394.2" y1="223.46" x2="386.2" y2="223.46" stroke="#000" stroke-width="1.6" />
<text x="375.5" y="229.01" font-size="15.7" text-anchor="end" >700</text>
<line x1="394.2" y1="256.85" x2="386.2" y2="256.85" stroke="#000" stroke-width="1.6" />
<text x="375.5" y="262.4" font-size="15.7" text-anchor="end" >850</text>
<line x1="394.2" y1="284.8" x2="386.2" y2="284.8" stroke="#000" stroke-width="1.6" />
<text x="375.5" y="290.35" font-size="15.7" text-anchor="end" >1000</text>
<text x="394.2" y="314.8" font-size="15.9" text-anchor="middle" >0</text>
<text x="486.47" y="314.8" font-size="15.9" text-anchor="middle" >30N</text>
<text x="578.73" y="314.8" font-size="15.9" text-anchor="middle" >60N</text>
<text x="671" y="314.8" font-size="15.9" text-anchor="middle" >90N</text>
<text transform="translate(65.6,41.05) scale(1,0.97)" font-size="22.8" text-anchor="start" >(a)</text>
<text transform="translate(410.6,41.05) scale(1,0.97)" font-size="22.8" text-anchor="start" >(b)</text>
<text transform="translate(250.4,47.9) scale(1,1.056)" font-size="28.66" text-anchor="start" >DSE</text>
<text transform="translate(278.4,63.3) scale(1,1.02)" font-size="14.25" text-anchor="start" >Tran.</text>
<text transform="translate(615.4,48.5) scale(1,1.09)" font-size="29.2" text-anchor="start" >LE</text>
<text x="617.4" y="63.4" font-size="14.98" text-anchor="start" >Tran.</text>
<rect x="55.9" y="336.6" width="12.5" height="24.1" fill="#2e0a4e"/>
<rect x="68.1" y="336.6" width="12.5" height="24.1" fill="#41126b"/>
<rect x="80.3" y="336.6" width="12.5" height="24.1" fill="#4e1f82"/>
<rect x="92.5" y="336.6" width="12.5" height="24.1" fill="#6a4c9a"/>
<rect x="104.7" y="336.6" width="12.5" height="24.1" fill="#8577ad"/>
<rect x="116.9" y="336.6" width="12.5" height="24.1" fill="#948bbf"/>
<rect x="129.1" y="336.6" width="12.5" height="24.1" fill="#b1aad3"/>
<rect x="141.3" y="336.6" width="12.5" height="24.1" fill="#cdc9e4"/>
<rect x="153.5" y="336.6" width="12.5" height="24.1" fill="#d9daed"/>
<rect x="165.7" y="336.6" width="12.5" height="24.1" fill="#e8e8f0"/>
<rect x="177.9" y="336.6" width="12.5" height="24.1" fill="#ffffff"/>
<rect x="190.1" y="336.6" width="12.5" height="24.1" fill="#ffffff"/>
<rect x="202.3" y="336.6" width="12.5" height="24.1" fill="#f6f0e6"/>
<rect x="214.5" y="336.6" width="12.5" height="24.1" fill="#fde0bb"/>
<rect x="226.7" y="336.6" width="12.5" height="24.1" fill="#fdd29f"/>
<rect x="238.9" y="336.6" width="12.5" height="24.1" fill="#fcbb6d"/>
<rect x="251.1" y="336.6" width="12.5" height="24.1" fill="#efa142"/>
<rect x="263.3" y="336.6" width="12.5" height="24.1" fill="#e69130"/>
<rect x="275.5" y="336.6" width="12.5" height="24.1" fill="#d0700f"/>
<rect x="287.7" y="336.6" width="12.5" height="24.1" fill="#b45808"/>
<rect x="299.9" y="336.6" width="12.5" height="24.1" fill="#9c4a09"/>
<rect x="312.1" y="336.6" width="12.5" height="24.1" fill="#7f3b08"/>
<text transform="translate(92.5,377.8) scale(1,1.05)" font-size="13.1" text-anchor="middle" >-320</text>
<text transform="translate(141.3,377.8) scale(1,1.05)" font-size="13.1" text-anchor="middle" >-160</text>
<text transform="translate(190.1,377.8) scale(1,1.05)" font-size="13.1" text-anchor="middle" >0</text>
<text transform="translate(238.9,377.8) scale(1,1.05)" font-size="13.1" text-anchor="middle" >160</text>
<text transform="translate(287.7,377.8) scale(1,1.05)" font-size="13.1" text-anchor="middle" >320</text>
<rect x="398.3" y="336.6" width="12.5" height="24.1" fill="#422a0a"/>
<rect x="410.5" y="336.6" width="12.5" height="24.1" fill="#5e3a0d"/>
<rect x="422.7" y="336.6" width="12.5" height="24.1" fill="#7c4a12"/>
<rect x="434.9" y="336.6" width="12.5" height="24.1" fill="#915916"/>
<rect x="447.1" y="336.6" width="12.5" height="24.1" fill="#a86d22"/>
<rect x="459.3" y="336.6" width="12.5" height="24.1" fill="#c38f45"/>
<rect x="471.5" y="336.6" width="12.5" height="24.1" fill="#d4b06a"/>
<rect x="483.7" y="336.6" width="12.5" height="24.1" fill="#e3c98f"/>
<rect x="495.9" y="336.6" width="12.5" height="24.1" fill="#efdcb2"/>
<rect x="508.1" y="336.6" width="12.5" height="24.1" fill="#f5e9cc"/>
<rect x="520.3" y="336.6" width="12.5" height="24.1" fill="#ffffff"/>
<rect x="532.5" y="336.6" width="12.5" height="24.1" fill="#ffffff"/>
<rect x="544.7" y="336.6" width="12.5" height="24.1" fill="#cdeae5"/>
<rect x="556.9" y="336.6" width="12.5" height="24.1" fill="#b3e0da"/>
<rect x="569.1" y="336.6" width="12.5" height="24.1" fill="#9cd6cc"/>
<rect x="581.3" y="336.6" width="12.5" height="24.1" fill="#7dc7b9"/>
<rect x="593.5" y="336.6" width="12.5" height="24.1" fill="#58ab9d"/>
<rect x="605.7" y="336.6" width="12.5" height="24.1" fill="#3a9486"/>
<rect x="617.9" y="336.6" width="12.5" height="24.1" fill="#1e7a70"/>
<rect x="630.1" y="336.6" width="12.5" height="24.1" fill="#0a6359"/>
<rect x="642.3" y="336.6" width="12.5" height="24.1" fill="#054d43"/>
<rect x="654.5" y="336.6" width="12.5" height="24.1" fill="#003b2f"/>
<text transform="translate(434.9,377.8) scale(1,1.05)" font-size="13.1" text-anchor="middle" >-320</text>
<text transform="translate(483.7,377.8) scale(1,1.05)" font-size="13.1" text-anchor="middle" >-160</text>
<text transform="translate(532.5,377.8) scale(1,1.05)" font-size="13.1" text-anchor="middle" >0</text>
<text transform="translate(581.3,377.8) scale(1,1.05)" font-size="13.1" text-anchor="middle" >160</text>
<text transform="translate(630.1,377.8) scale(1,1.05)" font-size="13.1" text-anchor="middle" >320</text>
<rect x="52" y="405.9" width="276.8" height="184.6" fill="none" stroke="#000" stroke-width="1.8"/>
<line x1="52" y1="405.9" x2="52" y2="399.9" stroke="#000" stroke-width="1.4" />
<line x1="52" y1="590.5" x2="52" y2="596.5" stroke="#000" stroke-width="1.4" />
<line x1="82.76" y1="405.9" x2="82.76" y2="403.1" stroke="#000" stroke-width="1.4" />
<line x1="82.76" y1="590.5" x2="82.76" y2="593.3" stroke="#000" stroke-width="1.4" />
<line x1="113.51" y1="405.9" x2="113.51" y2="403.1" stroke="#000" stroke-width="1.4" />
<line x1="113.51" y1="590.5" x2="113.51" y2="593.3" stroke="#000" stroke-width="1.4" />
<line x1="144.27" y1="405.9" x2="144.27" y2="399.9" stroke="#000" stroke-width="1.4" />
<line x1="144.27" y1="590.5" x2="144.27" y2="596.5" stroke="#000" stroke-width="1.4" />
<line x1="175.02" y1="405.9" x2="175.02" y2="403.1" stroke="#000" stroke-width="1.4" />
<line x1="175.02" y1="590.5" x2="175.02" y2="593.3" stroke="#000" stroke-width="1.4" />
<line x1="205.78" y1="405.9" x2="205.78" y2="403.1" stroke="#000" stroke-width="1.4" />
<line x1="205.78" y1="590.5" x2="205.78" y2="593.3" stroke="#000" stroke-width="1.4" />
<line x1="236.53" y1="405.9" x2="236.53" y2="399.9" stroke="#000" stroke-width="1.4" />
<line x1="236.53" y1="590.5" x2="236.53" y2="596.5" stroke="#000" stroke-width="1.4" />
<line x1="267.29" y1="405.9" x2="267.29" y2="403.1" stroke="#000" stroke-width="1.4" />
<line x1="267.29" y1="590.5" x2="267.29" y2="593.3" stroke="#000" stroke-width="1.4" />
<line x1="298.04" y1="405.9" x2="298.04" y2="403.1" stroke="#000" stroke-width="1.4" />
<line x1="298.04" y1="590.5" x2="298.04" y2="593.3" stroke="#000" stroke-width="1.4" />
<line x1="328.8" y1="405.9" x2="328.8" y2="399.9" stroke="#000" stroke-width="1.4" />
<line x1="328.8" y1="590.5" x2="328.8" y2="596.5" stroke="#000" stroke-width="1.4" />
<line x1="52" y1="405.9" x2="45.5" y2="405.9" stroke="#000" stroke-width="1.4" />
<line x1="328.8" y1="405.9" x2="335.3" y2="405.9" stroke="#000" stroke-width="1.4" />
<text transform="translate(37.7,410.5) scale(1,1.02)" font-size="13.0" text-anchor="end" >0.12</text>
<line x1="52" y1="415.13" x2="48.8" y2="415.13" stroke="#000" stroke-width="1.4" />
<line x1="328.8" y1="415.13" x2="332" y2="415.13" stroke="#000" stroke-width="1.4" />
<line x1="52" y1="424.36" x2="48.8" y2="424.36" stroke="#000" stroke-width="1.4" />
<line x1="328.8" y1="424.36" x2="332" y2="424.36" stroke="#000" stroke-width="1.4" />
<line x1="52" y1="433.59" x2="45.5" y2="433.59" stroke="#000" stroke-width="1.4" />
<line x1="328.8" y1="433.59" x2="335.3" y2="433.59" stroke="#000" stroke-width="1.4" />
<text transform="translate(37.7,438.19) scale(1,1.02)" font-size="13.0" text-anchor="end" >0.09</text>
<line x1="52" y1="442.82" x2="48.8" y2="442.82" stroke="#000" stroke-width="1.4" />
<line x1="328.8" y1="442.82" x2="332" y2="442.82" stroke="#000" stroke-width="1.4" />
<line x1="52" y1="452.05" x2="48.8" y2="452.05" stroke="#000" stroke-width="1.4" />
<line x1="328.8" y1="452.05" x2="332" y2="452.05" stroke="#000" stroke-width="1.4" />
<line x1="52" y1="461.28" x2="45.5" y2="461.28" stroke="#000" stroke-width="1.4" />
<line x1="328.8" y1="461.28" x2="335.3" y2="461.28" stroke="#000" stroke-width="1.4" />
<text transform="translate(37.7,465.88) scale(1,1.02)" font-size="13.0" text-anchor="end" >0.06</text>
<line x1="52" y1="470.51" x2="48.8" y2="470.51" stroke="#000" stroke-width="1.4" />
<line x1="328.8" y1="470.51" x2="332" y2="470.51" stroke="#000" stroke-width="1.4" />
<line x1="52" y1="479.74" x2="48.8" y2="479.74" stroke="#000" stroke-width="1.4" />
<line x1="328.8" y1="479.74" x2="332" y2="479.74" stroke="#000" stroke-width="1.4" />
<line x1="52" y1="488.97" x2="45.5" y2="488.97" stroke="#000" stroke-width="1.4" />
<line x1="328.8" y1="488.97" x2="335.3" y2="488.97" stroke="#000" stroke-width="1.4" />
<text transform="translate(37.7,493.57) scale(1,1.02)" font-size="13.0" text-anchor="end" >0.03</text>
<line x1="52" y1="498.2" x2="48.8" y2="498.2" stroke="#000" stroke-width="1.4" />
<line x1="328.8" y1="498.2" x2="332" y2="498.2" stroke="#000" stroke-width="1.4" />
<line x1="52" y1="507.43" x2="48.8" y2="507.43" stroke="#000" stroke-width="1.4" />
<line x1="328.8" y1="507.43" x2="332" y2="507.43" stroke="#000" stroke-width="1.4" />
<line x1="52" y1="516.66" x2="45.5" y2="516.66" stroke="#000" stroke-width="1.4" />
<line x1="328.8" y1="516.66" x2="335.3" y2="516.66" stroke="#000" stroke-width="1.4" />
<text transform="translate(37.7,521.26) scale(1,1.02)" font-size="13.0" text-anchor="end" >-0.0</text>
<line x1="52" y1="525.89" x2="48.8" y2="525.89" stroke="#000" stroke-width="1.4" />
<line x1="328.8" y1="525.89" x2="332" y2="525.89" stroke="#000" stroke-width="1.4" />
<line x1="52" y1="535.12" x2="48.8" y2="535.12" stroke="#000" stroke-width="1.4" />
<line x1="328.8" y1="535.12" x2="332" y2="535.12" stroke="#000" stroke-width="1.4" />
<line x1="52" y1="544.35" x2="45.5" y2="544.35" stroke="#000" stroke-width="1.4" />
<line x1="328.8" y1="544.35" x2="335.3" y2="544.35" stroke="#000" stroke-width="1.4" />
<text transform="translate(37.7,548.95) scale(1,1.02)" font-size="13.0" text-anchor="end" >-0.03</text>
<line x1="52" y1="553.58" x2="48.8" y2="553.58" stroke="#000" stroke-width="1.4" />
<line x1="328.8" y1="553.58" x2="332" y2="553.58" stroke="#000" stroke-width="1.4" />
<line x1="52" y1="562.81" x2="48.8" y2="562.81" stroke="#000" stroke-width="1.4" />
<line x1="328.8" y1="562.81" x2="332" y2="562.81" stroke="#000" stroke-width="1.4" />
<line x1="52" y1="572.04" x2="45.5" y2="572.04" stroke="#000" stroke-width="1.4" />
<line x1="328.8" y1="572.04" x2="335.3" y2="572.04" stroke="#000" stroke-width="1.4" />
<text transform="translate(37.7,576.64) scale(1,1.02)" font-size="13.0" text-anchor="end" >-0.06</text>
<line x1="52" y1="581.27" x2="48.8" y2="581.27" stroke="#000" stroke-width="1.4" />
<line x1="328.8" y1="581.27" x2="332" y2="581.27" stroke="#000" stroke-width="1.4" />
<line x1="52" y1="590.5" x2="48.8" y2="590.5" stroke="#000" stroke-width="1.4" />
<line x1="328.8" y1="590.5" x2="332" y2="590.5" stroke="#000" stroke-width="1.4" />
<text x="52" y="615.2" font-size="13.3" text-anchor="middle" >0</text>
<text x="144.27" y="615.2" font-size="13.3" text-anchor="middle" >30N</text>
<text x="236.53" y="615.2" font-size="13.3" text-anchor="middle" >60N</text>
<text x="328.8" y="615.2" font-size="13.3" text-anchor="middle" >90N</text>
<line x1="52" y1="516.66" x2="328.8" y2="516.66" stroke="#000" stroke-width="1.2" />
<rect x="394.2" y="405.9" width="276.8" height="184.6" fill="none" stroke="#000" stroke-width="1.8"/>
<line x1="394.2" y1="405.9" x2="394.2" y2="399.9" stroke="#000" stroke-width="1.4" />
<line x1="394.2" y1="590.5" x2="394.2" y2="596.5" stroke="#000" stroke-width="1.4" />
<line x1="424.96" y1="405.9" x2="424.96" y2="403.1" stroke="#000" stroke-width="1.4" />
<line x1="424.96" y1="590.5" x2="424.96" y2="593.3" stroke="#000" stroke-width="1.4" />
<line x1="455.71" y1="405.9" x2="455.71" y2="403.1" stroke="#000" stroke-width="1.4" />
<line x1="455.71" y1="590.5" x2="455.71" y2="593.3" stroke="#000" stroke-width="1.4" />
<line x1="486.47" y1="405.9" x2="486.47" y2="399.9" stroke="#000" stroke-width="1.4" />
<line x1="486.47" y1="590.5" x2="486.47" y2="596.5" stroke="#000" stroke-width="1.4" />
<line x1="517.22" y1="405.9" x2="517.22" y2="403.1" stroke="#000" stroke-width="1.4" />
<line x1="517.22" y1="590.5" x2="517.22" y2="593.3" stroke="#000" stroke-width="1.4" />
<line x1="547.98" y1="405.9" x2="547.98" y2="403.1" stroke="#000" stroke-width="1.4" />
<line x1="547.98" y1="590.5" x2="547.98" y2="593.3" stroke="#000" stroke-width="1.4" />
<line x1="578.73" y1="405.9" x2="578.73" y2="399.9" stroke="#000" stroke-width="1.4" />
<line x1="578.73" y1="590.5" x2="578.73" y2="596.5" stroke="#000" stroke-width="1.4" />
<line x1="609.49" y1="405.9" x2="609.49" y2="403.1" stroke="#000" stroke-width="1.4" />
<line x1="609.49" y1="590.5" x2="609.49" y2="593.3" stroke="#000" stroke-width="1.4" />
<line x1="640.24" y1="405.9" x2="640.24" y2="403.1" stroke="#000" stroke-width="1.4" />
<line x1="640.24" y1="590.5" x2="640.24" y2="593.3" stroke="#000" stroke-width="1.4" />
<line x1="671" y1="405.9" x2="671" y2="399.9" stroke="#000" stroke-width="1.4" />
<line x1="671" y1="590.5" x2="671" y2="596.5" stroke="#000" stroke-width="1.4" />
<line x1="394.2" y1="405.9" x2="387.7" y2="405.9" stroke="#000" stroke-width="1.4" />
<line x1="671" y1="405.9" x2="677.5" y2="405.9" stroke="#000" stroke-width="1.4" />
<text transform="translate(379.9,410.5) scale(1,1.02)" font-size="13.0" text-anchor="end" >0.12</text>
<line x1="394.2" y1="415.13" x2="391" y2="415.13" stroke="#000" stroke-width="1.4" />
<line x1="671" y1="415.13" x2="674.2" y2="415.13" stroke="#000" stroke-width="1.4" />
<line x1="394.2" y1="424.36" x2="391" y2="424.36" stroke="#000" stroke-width="1.4" />
<line x1="671" y1="424.36" x2="674.2" y2="424.36" stroke="#000" stroke-width="1.4" />
<line x1="394.2" y1="433.59" x2="387.7" y2="433.59" stroke="#000" stroke-width="1.4" />
<line x1="671" y1="433.59" x2="677.5" y2="433.59" stroke="#000" stroke-width="1.4" />
<text transform="translate(379.9,438.19) scale(1,1.02)" font-size="13.0" text-anchor="end" >0.09</text>
<line x1="394.2" y1="442.82" x2="391" y2="442.82" stroke="#000" stroke-width="1.4" />
<line x1="671" y1="442.82" x2="674.2" y2="442.82" stroke="#000" stroke-width="1.4" />
<line x1="394.2" y1="452.05" x2="391" y2="452.05" stroke="#000" stroke-width="1.4" />
<line x1="671" y1="452.05" x2="674.2" y2="452.05" stroke="#000" stroke-width="1.4" />
<line x1="394.2" y1="461.28" x2="387.7" y2="461.28" stroke="#000" stroke-width="1.4" />
<line x1="671" y1="461.28" x2="677.5" y2="461.28" stroke="#000" stroke-width="1.4" />
<text transform="translate(379.9,465.88) scale(1,1.02)" font-size="13.0" text-anchor="end" >0.06</text>
<line x1="394.2" y1="470.51" x2="391" y2="470.51" stroke="#000" stroke-width="1.4" />
<line x1="671" y1="470.51" x2="674.2" y2="470.51" stroke="#000" stroke-width="1.4" />
<line x1="394.2" y1="479.74" x2="391" y2="479.74" stroke="#000" stroke-width="1.4" />
<line x1="671" y1="479.74" x2="674.2" y2="479.74" stroke="#000" stroke-width="1.4" />
<line x1="394.2" y1="488.97" x2="387.7" y2="488.97" stroke="#000" stroke-width="1.4" />
<line x1="671" y1="488.97" x2="677.5" y2="488.97" stroke="#000" stroke-width="1.4" />
<text transform="translate(379.9,493.57) scale(1,1.02)" font-size="13.0" text-anchor="end" >0.03</text>
<line x1="394.2" y1="498.2" x2="391" y2="498.2" stroke="#000" stroke-width="1.4" />
<line x1="671" y1="498.2" x2="674.2" y2="498.2" stroke="#000" stroke-width="1.4" />
<line x1="394.2" y1="507.43" x2="391" y2="507.43" stroke="#000" stroke-width="1.4" />
<line x1="671" y1="507.43" x2="674.2" y2="507.43" stroke="#000" stroke-width="1.4" />
<line x1="394.2" y1="516.66" x2="387.7" y2="516.66" stroke="#000" stroke-width="1.4" />
<line x1="671" y1="516.66" x2="677.5" y2="516.66" stroke="#000" stroke-width="1.4" />
<text transform="translate(379.9,521.26) scale(1,1.02)" font-size="13.0" text-anchor="end" >-0.0</text>
<line x1="394.2" y1="525.89" x2="391" y2="525.89" stroke="#000" stroke-width="1.4" />
<line x1="671" y1="525.89" x2="674.2" y2="525.89" stroke="#000" stroke-width="1.4" />
<line x1="394.2" y1="535.12" x2="391" y2="535.12" stroke="#000" stroke-width="1.4" />
<line x1="671" y1="535.12" x2="674.2" y2="535.12" stroke="#000" stroke-width="1.4" />
<line x1="394.2" y1="544.35" x2="387.7" y2="544.35" stroke="#000" stroke-width="1.4" />
<line x1="671" y1="544.35" x2="677.5" y2="544.35" stroke="#000" stroke-width="1.4" />
<text transform="translate(379.9,548.95) scale(1,1.02)" font-size="13.0" text-anchor="end" >-0.03</text>
<line x1="394.2" y1="553.58" x2="391" y2="553.58" stroke="#000" stroke-width="1.4" />
<line x1="671" y1="553.58" x2="674.2" y2="553.58" stroke="#000" stroke-width="1.4" />
<line x1="394.2" y1="562.81" x2="391" y2="562.81" stroke="#000" stroke-width="1.4" />
<line x1="671" y1="562.81" x2="674.2" y2="562.81" stroke="#000" stroke-width="1.4" />
<line x1="394.2" y1="572.04" x2="387.7" y2="572.04" stroke="#000" stroke-width="1.4" />
<line x1="671" y1="572.04" x2="677.5" y2="572.04" stroke="#000" stroke-width="1.4" />
<text transform="translate(379.9,576.64) scale(1,1.02)" font-size="13.0" text-anchor="end" >-0.06</text>
<line x1="394.2" y1="581.27" x2="391" y2="581.27" stroke="#000" stroke-width="1.4" />
<line x1="671" y1="581.27" x2="674.2" y2="581.27" stroke="#000" stroke-width="1.4" />
<line x1="394.2" y1="590.5" x2="391" y2="590.5" stroke="#000" stroke-width="1.4" />
<line x1="671" y1="590.5" x2="674.2" y2="590.5" stroke="#000" stroke-width="1.4" />
<text x="394.2" y="615.2" font-size="13.3" text-anchor="middle" >0</text>
<text x="486.47" y="615.2" font-size="13.3" text-anchor="middle" >30N</text>
<text x="578.73" y="615.2" font-size="13.3" text-anchor="middle" >60N</text>
<text x="671" y="615.2" font-size="13.3" text-anchor="middle" >90N</text>
<line x1="394.2" y1="516.66" x2="671" y2="516.66" stroke="#000" stroke-width="1.2" />
<text transform="translate(66.5,437.35) scale(1,1.035)" font-size="22.3" text-anchor="start" >(c)</text>
<text transform="translate(410.55,437.35) scale(1,1.026)" font-size="22.5" text-anchor="start" >(d)</text>
<path d="M52,519.8 C52.83,519.83 55.42,520.12 57,520 C58.58,519.88 60.17,519.47 61.5,519.1 C62.83,518.73 63.75,518.32 65,517.8 C66.25,517.28 67.58,516.7 69,516 C70.42,515.3 71.67,514.4 73.5,513.6 C75.33,512.8 77.75,511.75 80,511.2 C82.25,510.65 84.7,510.27 87,510.3 C89.3,510.33 91.47,510.75 93.8,511.4 C96.13,512.05 98.63,513.43 101,514.2 C103.37,514.97 106,515.68 108,516 C110,516.32 111.33,516.22 113,516.1 C114.67,515.98 116.33,516.02 118,515.3 C119.67,514.58 121.45,513.12 123,511.8 C124.55,510.48 125.77,509.35 127.3,507.4 C128.83,505.45 130.27,503.35 132.2,500.1 C134.13,496.85 137.07,491.35 138.9,487.9 C140.73,484.45 141.68,482.23 143.2,479.4 C144.72,476.57 146.38,473.13 148,470.9 C149.62,468.67 151.37,467.02 152.9,466 C154.43,464.98 155.57,464.6 157.2,464.8 C158.83,465 160.77,465.68 162.7,467.2 C164.63,468.72 166.77,470.85 168.8,473.9 C170.83,476.95 172.87,481.13 174.9,485.5 C176.93,489.87 178.77,494.97 181,500.1 C183.23,505.23 185.97,512.23 188.3,516.3 C190.63,520.37 192.23,522.45 195,524.5 C197.77,526.55 201.57,528.27 204.9,528.6 C208.23,528.93 212.07,527.6 215,526.5 C217.93,525.4 219.97,523.68 222.5,522 C225.03,520.32 227.28,518.18 230.2,516.4 C233.12,514.62 236.7,512.62 240,511.3 C243.3,509.98 246.62,509.08 250,508.5 C253.38,507.92 256.97,507.72 260.3,507.8 C263.63,507.88 266.72,508.3 270,509 C273.28,509.7 275.95,510.77 280,512 C284.05,513.23 290.13,515.47 294.3,516.4 C298.47,517.33 301.62,517.42 305,517.6 C308.38,517.78 311.77,517.62 314.6,517.5 C317.43,517.38 319.63,517.08 322,516.9 C324.37,516.72 327.67,516.48 328.8,516.4" fill="none" stroke="#000" stroke-width="2" stroke-dasharray="7 4.5"/>
<path d="M52,519.8 C52.83,519.83 55.42,520.12 57,520 C58.58,519.88 60.75,519.25 61.5,519.1" fill="none" stroke="#000" stroke-width="4.2" stroke-linecap="round"/>
<path d="M73.5,513.6 C74.58,513.2 77.75,511.75 80,511.2 C82.25,510.65 84.7,510.27 87,510.3 C89.3,510.33 92.67,511.22 93.8,511.4" fill="none" stroke="#000" stroke-width="4.2" stroke-linecap="round"/>
<path d="M138.9,487.9 C139.62,486.48 141.68,482.23 143.2,479.4 C144.72,476.57 146.38,473.13 148,470.9 C149.62,468.67 151.37,467.02 152.9,466 C154.43,464.98 155.57,464.6 157.2,464.8 C158.83,465 160.77,465.68 162.7,467.2 C164.63,468.72 167.78,472.78 168.8,473.9" fill="none" stroke="#000" stroke-width="4.2" stroke-linecap="round"/>
<path d="M394.4,491.6 C395.08,489 397.07,480.33 398.5,476 C399.93,471.67 401.38,468.3 403,465.6 C404.62,462.9 406.5,460.23 408.2,459.8 C409.9,459.37 411.57,459.87 413.2,463 C414.83,466.13 416.48,473.6 418,478.6 C419.52,483.6 420.68,488.22 422.3,493 C423.92,497.78 425.7,503.62 427.7,507.3 C429.7,510.98 431.92,512.93 434.3,515.1 C436.68,517.27 439.4,519.12 442,520.3 C444.6,521.48 447.73,522.17 449.9,522.2 C452.07,522.23 453.48,521.62 455,520.5 C456.52,519.38 457.67,517.67 459,515.5 C460.33,513.33 461.55,510.38 463,507.5 C464.45,504.62 465.87,501.62 467.7,498.2 C469.53,494.78 471.95,490.03 474,487 C476.05,483.97 478.07,481.57 480,480 C481.93,478.43 483.6,477.88 485.6,477.6 C487.6,477.32 489.93,477.73 492,478.3 C494.07,478.87 496,479.63 498,481 C500,482.37 501.9,484.13 504,486.5 C506.1,488.87 508.6,492.62 510.6,495.2 C512.6,497.78 514.1,499.7 516,502 C517.9,504.3 519.58,506.58 522,509 C524.42,511.42 527.33,514.7 530.5,516.5 C533.67,518.3 537.25,519.38 541,519.8 C544.75,520.22 548.92,519.55 553,519 C557.08,518.45 561.33,517.33 565.5,516.5 C569.67,515.67 573.52,514.55 578,514 C582.48,513.45 587.07,513.2 592.4,513.2 C597.73,513.2 603.77,513.45 610,514 C616.23,514.55 624.55,515.93 629.8,516.5 C635.05,517.07 637.3,517.33 641.5,517.4 C645.7,517.47 650.12,517.05 655,516.9 C659.88,516.75 668.17,516.57 670.8,516.5" fill="none" stroke="#000" stroke-width="2" stroke-dasharray="7 4.5"/>
<path d="M394.4,491.6 C395.08,489 397.07,480.33 398.5,476 C399.93,471.67 401.38,468.3 403,465.6 C404.62,462.9 406.5,460.23 408.2,459.8 C409.9,459.37 411.57,459.87 413.2,463 C414.83,466.13 416.48,473.6 418,478.6 C419.52,483.6 421.58,490.6 422.3,493" fill="none" stroke="#000" stroke-width="4.2" stroke-linecap="round"/>
<path d="M467.7,498.2 C468.75,496.33 471.95,490.03 474,487 C476.05,483.97 478.07,481.57 480,480 C481.93,478.43 483.6,477.88 485.6,477.6 C487.6,477.32 489.93,477.73 492,478.3 C494.07,478.87 496,479.63 498,481 C500,482.37 501.9,484.13 504,486.5 C506.1,488.87 509.5,493.75 510.6,495.2" fill="none" stroke="#000" stroke-width="4.2" stroke-linecap="round"/>
<line x1="248.1" y1="429.2" x2="276.7" y2="429.2" stroke="#333" stroke-width="1.4" stroke-dasharray="4.6 3.6"/>
<text x="282.7" y="433.7" font-size="13.35" text-anchor="start" >Total</text>
<line x1="590.3" y1="429.2" x2="618.9" y2="429.2" stroke="#333" stroke-width="1.4" stroke-dasharray="4.6 3.6"/>
<text x="624.9" y="433.7" font-size="13.35" text-anchor="start" >Total</text>
</svg></body></html>
